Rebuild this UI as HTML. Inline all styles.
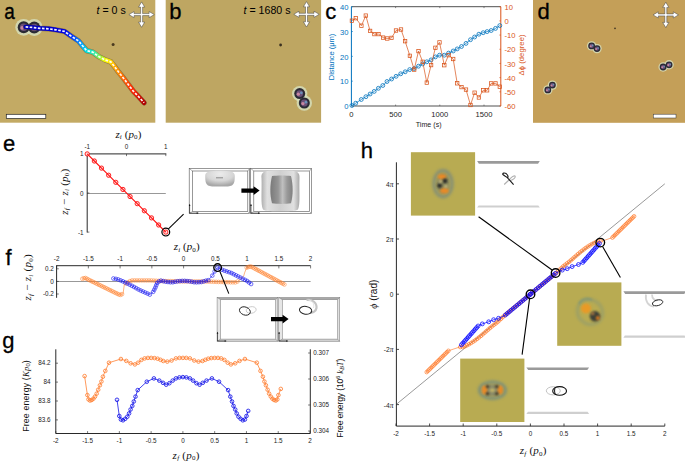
<!DOCTYPE html>
<html><head><meta charset="utf-8"><style>
html,body{margin:0;padding:0;background:#fff;width:685px;height:463px;overflow:hidden}
svg{display:block}
text{font-family:"Liberation Sans",sans-serif}
</style></head><body>
<svg width="685" height="463" viewBox="0 0 685 463">
<defs>
<radialGradient id="gblob" cx="0.5" cy="0.2" r="0.75"><stop offset="0" stop-color="#ececec"/><stop offset="0.6" stop-color="#d6d6d6"/><stop offset="1" stop-color="#a8a8a8"/></radialGradient>
<linearGradient id="gblob2" x1="0" y1="0" x2="1" y2="0"><stop offset="0" stop-color="#b0b0b0"/><stop offset="0.15" stop-color="#e0e0e0"/><stop offset="0.5" stop-color="#d0d0d0"/><stop offset="0.85" stop-color="#e0e0e0"/><stop offset="1" stop-color="#a8a8a8"/></linearGradient>
<linearGradient id="gcore" x1="0" y1="0" x2="1" y2="0"><stop offset="0" stop-color="#7a7a7a"/><stop offset="0.35" stop-color="#959595"/><stop offset="0.55" stop-color="#c0c0c0"/><stop offset="0.75" stop-color="#9a9a9a"/><stop offset="1" stop-color="#808080"/></linearGradient>
</defs><defs>
<radialGradient id="halo"><stop offset="0.55" stop-color="#c8d0a8" stop-opacity="0.9"/><stop offset="0.75" stop-color="#d8d8a0" stop-opacity="0.5"/><stop offset="1" stop-color="#d8c890" stop-opacity="0"/></radialGradient>
<radialGradient id="pdark"><stop offset="0" stop-color="#6a5a70"/><stop offset="0.45" stop-color="#3c3848"/><stop offset="0.8" stop-color="#404848"/><stop offset="1" stop-color="#707860"/></radialGradient>
<radialGradient id="pdarkA"><stop offset="0" stop-color="#d0a0b0"/><stop offset="0.3" stop-color="#8a6a80"/><stop offset="0.6" stop-color="#3c3848"/><stop offset="1" stop-color="#556060"/></radialGradient>
<linearGradient id="traj" gradientUnits="userSpaceOnUse" x1="25" y1="27" x2="144" y2="103">
<stop offset="0" stop-color="#0000b0"/><stop offset="0.25" stop-color="#0000e0"/><stop offset="0.33" stop-color="#0040ff"/>
<stop offset="0.40" stop-color="#00a0ff"/><stop offset="0.46" stop-color="#00e0e0"/><stop offset="0.52" stop-color="#40f0a0"/>
<stop offset="0.56" stop-color="#90f040"/><stop offset="0.61" stop-color="#ffff00"/><stop offset="0.68" stop-color="#ffb000"/>
<stop offset="0.79" stop-color="#ff6000"/><stop offset="0.89" stop-color="#ff2000"/><stop offset="1" stop-color="#b00000"/>
</linearGradient>
<filter id="noise" x="0" y="0" width="1" height="1"><feTurbulence type="fractalNoise" baseFrequency="0.6" numOctaves="2" seed="3"/><feColorMatrix type="matrix" values="0 0 0 0 0.5  0 0 0 0 0.45  0 0 0 0 0.3  0 0 0 0.18 0"/></filter>
<filter id="blur05" x="-50%" y="-50%" width="200%" height="200%"><feGaussianBlur stdDeviation="0.5"/></filter>
<filter id="blur1" x="-50%" y="-50%" width="200%" height="200%"><feGaussianBlur stdDeviation="0.9"/></filter>
<filter id="blur15" x="-50%" y="-50%" width="200%" height="200%"><feGaussianBlur stdDeviation="1.3"/></filter>
<filter id="blur2" x="-50%" y="-50%" width="200%" height="200%"><feGaussianBlur stdDeviation="1.6"/></filter>
<filter id="blur3"><feGaussianBlur stdDeviation="2.5"/></filter>
</defs>
<rect x="0" y="0" width="155.3" height="122.7" fill="#c3aa64"/>
<text transform="translate(4.2 18.7) scale(0.86 1)" font-size="22" fill="#000" stroke="#000" stroke-width="0.35">a</text>
<text x="96.6" y="13.7" font-size="10.6" fill="#000" text-anchor="start" style="font-family:'Liberation Sans',sans-serif;" ><tspan font-style="italic">t</tspan> = 0 s</text>
<polygon points="142.6,13.6 142.6,7.1 144.7,7.1 141.6,1.9 138.5,7.1 140.6,7.1 140.6,13.6 134.1,13.6 134.1,11.5 128.9,14.6 134.1,17.7 134.1,15.6 140.6,15.6 140.6,22.1 138.5,22.1 141.6,27.3 144.7,22.1 142.6,22.1 142.6,15.6 149.1,15.6 149.1,17.7 154.3,14.6 149.1,11.5 149.1,13.6" fill="#fff" stroke="#404040" stroke-width="0.5" stroke-linejoin="round"/>
<circle cx="23.7" cy="27.3" r="8.4" fill="#d8e2c0" opacity="0.8" filter="url(#blur05)"/>
<circle cx="34.2" cy="27.5" r="8.4" fill="#d8e2c0" opacity="0.8" filter="url(#blur05)"/>
<circle cx="23.7" cy="27.3" r="6" fill="#2c2a36" filter="url(#blur05)"/>
<circle cx="34.2" cy="27.5" r="6" fill="#2c2a36" filter="url(#blur05)"/>
<circle cx="23.7" cy="27.3" r="3.72" fill="#6a5078" filter="url(#blur05)"/>
<circle cx="22.2" cy="27.9" r="1.8" fill="#d890a8" opacity="0.85" filter="url(#blur05)"/>
<circle cx="25.5" cy="26.4" r="1.5" fill="#6aa0c8" opacity="0.8" filter="url(#blur05)"/>
<circle cx="34.2" cy="27.5" r="3.72" fill="#6a5078" filter="url(#blur05)"/>
<circle cx="32.7" cy="28.1" r="1.8" fill="#d890a8" opacity="0.85" filter="url(#blur05)"/>
<circle cx="36" cy="26.6" r="1.5" fill="#6aa0c8" opacity="0.8" filter="url(#blur05)"/>
<circle cx="113.1" cy="44.5" r="1.5" fill="#4a3a20"/>
<polyline points="25.6,26.9 33,27.5 40,28.3 48.9,28.8 56,29.8 64.5,31.4 71,36 78.7,41.1 82.1,45.3 86.6,50.6 92.7,52.1 98.7,56.6 104.8,59.7 110.8,61.9 113.9,65.7 118.4,71.8 124.4,79.3 129,85.4 133.5,91.4 138,96 144.1,102.8" fill="none" stroke="#4a3020" stroke-width="5.4" stroke-linejoin="round" stroke-linecap="round" opacity="0.45"/>
<polyline points="25.6,26.9 33,27.5 40,28.3 48.9,28.8 56,29.8 64.5,31.4 71,36 78.7,41.1 82.1,45.3 86.6,50.6 92.7,52.1 98.7,56.6 104.8,59.7 110.8,61.9 113.9,65.7 118.4,71.8 124.4,79.3 129,85.4 133.5,91.4 138,96 144.1,102.8" fill="none" stroke="url(#traj)" stroke-width="4.4" stroke-linejoin="round" stroke-linecap="round"/>
<polyline points="25.6,26.9 33,27.5 40,28.3 48.9,28.8 56,29.8 64.5,31.4 71,36 78.7,41.1 82.1,45.3 86.6,50.6 92.7,52.1 98.7,56.6 104.8,59.7 110.8,61.9 113.9,65.7 118.4,71.8 124.4,79.3 129,85.4 133.5,91.4 138,96 144.1,102.8" fill="none" stroke="#fff" stroke-width="1.7" stroke-linejoin="round" stroke-dasharray="2.6 1.5" opacity="0.95"/>
<rect x="6.3" y="114.3" width="39.5" height="4.2" fill="#fff" stroke="#222" stroke-width="0.7"/>
<rect x="165.7" y="0" width="155.4" height="122.7" fill="#bea662"/>
<text x="169.3" y="18.7" font-size="22" fill="#000" text-anchor="start" style="font-family:'Liberation Sans',sans-serif;" stroke="#000" stroke-width="0.3">b</text>
<text x="243.6" y="13.7" font-size="10.6" fill="#000" text-anchor="start" style="font-family:'Liberation Sans',sans-serif;" ><tspan font-style="italic">t</tspan> = 1680 s</text>
<polygon points="307.5,13.3 307.5,6.8 309.6,6.8 306.5,1.6 303.4,6.8 305.5,6.8 305.5,13.3 299,13.3 299,11.2 293.8,14.3 299,17.4 299,15.3 305.5,15.3 305.5,21.8 303.4,21.8 306.5,27 309.6,21.8 307.5,21.8 307.5,15.3 314,15.3 314,17.4 319.2,14.3 314,11.2 314,13.3" fill="#fff" stroke="#404040" stroke-width="0.5" stroke-linejoin="round"/>
<circle cx="299.7" cy="93.6" r="7.7" fill="#d8e2c0" opacity="0.8" filter="url(#blur05)"/>
<circle cx="304.3" cy="103" r="7.7" fill="#d8e2c0" opacity="0.8" filter="url(#blur05)"/>
<circle cx="299.7" cy="93.6" r="5.5" fill="#2c2a36" filter="url(#blur05)"/>
<circle cx="304.3" cy="103" r="5.5" fill="#2c2a36" filter="url(#blur05)"/>
<circle cx="299.7" cy="93.6" r="3.41" fill="#6a5078" filter="url(#blur05)"/>
<circle cx="298.32" cy="94.15" r="1.65" fill="#d890a8" opacity="0.85" filter="url(#blur05)"/>
<circle cx="301.35" cy="92.77" r="1.38" fill="#6aa0c8" opacity="0.8" filter="url(#blur05)"/>
<circle cx="304.3" cy="103" r="3.41" fill="#6a5078" filter="url(#blur05)"/>
<circle cx="302.93" cy="103.55" r="1.65" fill="#d890a8" opacity="0.85" filter="url(#blur05)"/>
<circle cx="305.95" cy="102.17" r="1.38" fill="#6aa0c8" opacity="0.8" filter="url(#blur05)"/>
<circle cx="280.6" cy="45" r="1.4" fill="#3a3020"/>
<rect x="533" y="0" width="152" height="122.8" fill="#c49f58"/>
<text x="537.5" y="18.7" font-size="22" fill="#000" text-anchor="start" style="font-family:'Liberation Sans',sans-serif;" stroke="#000" stroke-width="0.3">d</text>
<polygon points="666.8,13.9 666.8,7.4 668.9,7.4 665.8,2.2 662.7,7.4 664.8,7.4 664.8,13.9 658.3,13.9 658.3,11.8 653.1,14.9 658.3,18 658.3,15.9 664.8,15.9 664.8,22.4 662.7,22.4 665.8,27.6 668.9,22.4 666.8,22.4 666.8,15.9 673.3,15.9 673.3,18 678.5,14.9 673.3,11.8 673.3,13.9" fill="#fff" stroke="#404040" stroke-width="0.5" stroke-linejoin="round"/>
<circle cx="591.6" cy="45.9" r="4.7" fill="#d8e2c0" opacity="0.8" filter="url(#blur05)"/>
<circle cx="597" cy="48.6" r="4.7" fill="#d8e2c0" opacity="0.8" filter="url(#blur05)"/>
<circle cx="591.6" cy="45.9" r="3.4" fill="#2c2a36" filter="url(#blur05)"/>
<circle cx="597" cy="48.6" r="3.4" fill="#2c2a36" filter="url(#blur05)"/>
<circle cx="591.6" cy="45.9" r="2.11" fill="#6a5078" filter="url(#blur05)"/>
<circle cx="590.75" cy="46.24" r="1.02" fill="#d890a8" opacity="0.85" filter="url(#blur05)"/>
<circle cx="592.62" cy="45.39" r="0.85" fill="#6aa0c8" opacity="0.8" filter="url(#blur05)"/>
<circle cx="597" cy="48.6" r="2.11" fill="#6a5078" filter="url(#blur05)"/>
<circle cx="596.15" cy="48.94" r="1.02" fill="#d890a8" opacity="0.85" filter="url(#blur05)"/>
<circle cx="598.02" cy="48.09" r="0.85" fill="#6aa0c8" opacity="0.8" filter="url(#blur05)"/>
<circle cx="663.1" cy="67" r="4.7" fill="#d8e2c0" opacity="0.8" filter="url(#blur05)"/>
<circle cx="669.1" cy="64.8" r="4.7" fill="#d8e2c0" opacity="0.8" filter="url(#blur05)"/>
<circle cx="663.1" cy="67" r="3.4" fill="#2c2a36" filter="url(#blur05)"/>
<circle cx="669.1" cy="64.8" r="3.4" fill="#2c2a36" filter="url(#blur05)"/>
<circle cx="663.1" cy="67" r="2.11" fill="#6a5078" filter="url(#blur05)"/>
<circle cx="662.25" cy="67.34" r="1.02" fill="#d890a8" opacity="0.85" filter="url(#blur05)"/>
<circle cx="664.12" cy="66.49" r="0.85" fill="#6aa0c8" opacity="0.8" filter="url(#blur05)"/>
<circle cx="669.1" cy="64.8" r="2.11" fill="#6a5078" filter="url(#blur05)"/>
<circle cx="668.25" cy="65.14" r="1.02" fill="#d890a8" opacity="0.85" filter="url(#blur05)"/>
<circle cx="670.12" cy="64.29" r="0.85" fill="#6aa0c8" opacity="0.8" filter="url(#blur05)"/>
<circle cx="552.4" cy="85.1" r="4.7" fill="#d8e2c0" opacity="0.8" filter="url(#blur05)"/>
<circle cx="547.8" cy="89.9" r="4.7" fill="#d8e2c0" opacity="0.8" filter="url(#blur05)"/>
<circle cx="552.4" cy="85.1" r="3.4" fill="#2c2a36" filter="url(#blur05)"/>
<circle cx="547.8" cy="89.9" r="3.4" fill="#2c2a36" filter="url(#blur05)"/>
<circle cx="552.4" cy="85.1" r="2.11" fill="#6a5078" filter="url(#blur05)"/>
<circle cx="551.55" cy="85.44" r="1.02" fill="#d890a8" opacity="0.85" filter="url(#blur05)"/>
<circle cx="553.42" cy="84.59" r="0.85" fill="#6aa0c8" opacity="0.8" filter="url(#blur05)"/>
<circle cx="547.8" cy="89.9" r="2.11" fill="#6a5078" filter="url(#blur05)"/>
<circle cx="546.95" cy="90.24" r="1.02" fill="#d890a8" opacity="0.85" filter="url(#blur05)"/>
<circle cx="548.82" cy="89.39" r="0.85" fill="#6aa0c8" opacity="0.8" filter="url(#blur05)"/>
<circle cx="615" cy="28.4" r="0.8" fill="#3a3020"/>
<rect x="653.3" y="114.2" width="22.7" height="3.8" fill="#fff" stroke="#333" stroke-width="0.5"/>
<text x="325.3" y="18.6" font-size="22" fill="#000" text-anchor="start" style="font-family:'Liberation Sans',sans-serif;" stroke="#000" stroke-width="0.3">c</text>
<line x1="351.4" y1="6.7" x2="500.8" y2="6.7" stroke="#505050" stroke-width="1.0" />
<line x1="351.4" y1="106" x2="500.8" y2="106" stroke="#505050" stroke-width="1.0" />
<line x1="351.4" y1="6.7" x2="351.4" y2="106" stroke="#0072bd" stroke-width="1.0" />
<line x1="500.8" y1="6.7" x2="500.8" y2="106" stroke="#d95319" stroke-width="1.0" />
<line x1="395.6" y1="106" x2="395.6" y2="104.6" stroke="#555" stroke-width="0.7" />
<line x1="395.6" y1="6.7" x2="395.6" y2="8.1" stroke="#555" stroke-width="0.7" />
<line x1="439.8" y1="106" x2="439.8" y2="104.6" stroke="#555" stroke-width="0.7" />
<line x1="439.8" y1="6.7" x2="439.8" y2="8.1" stroke="#555" stroke-width="0.7" />
<line x1="484" y1="106" x2="484" y2="104.6" stroke="#555" stroke-width="0.7" />
<line x1="484" y1="6.7" x2="484" y2="8.1" stroke="#555" stroke-width="0.7" />
<line x1="351.4" y1="106" x2="352.8" y2="106" stroke="#0072bd" stroke-width="0.7" />
<text x="348.5" y="109.2" font-size="7.6" fill="#0072bd" text-anchor="end" style="font-family:'Liberation Sans',sans-serif;" >0</text>
<line x1="351.4" y1="81.17" x2="352.8" y2="81.17" stroke="#0072bd" stroke-width="0.7" />
<text x="348.5" y="84.38" font-size="7.6" fill="#0072bd" text-anchor="end" style="font-family:'Liberation Sans',sans-serif;" >10</text>
<line x1="351.4" y1="56.35" x2="352.8" y2="56.35" stroke="#0072bd" stroke-width="0.7" />
<text x="348.5" y="59.55" font-size="7.6" fill="#0072bd" text-anchor="end" style="font-family:'Liberation Sans',sans-serif;" >20</text>
<line x1="351.4" y1="31.53" x2="352.8" y2="31.53" stroke="#0072bd" stroke-width="0.7" />
<text x="348.5" y="34.73" font-size="7.6" fill="#0072bd" text-anchor="end" style="font-family:'Liberation Sans',sans-serif;" >30</text>
<line x1="351.4" y1="6.7" x2="352.8" y2="6.7" stroke="#0072bd" stroke-width="0.7" />
<text x="348.5" y="9.9" font-size="7.6" fill="#0072bd" text-anchor="end" style="font-family:'Liberation Sans',sans-serif;" >40</text>
<line x1="500.8" y1="6.7" x2="499.4" y2="6.7" stroke="#d95319" stroke-width="0.7" />
<text x="504.6" y="9.9" font-size="7.6" fill="#d95319" text-anchor="start" style="font-family:'Liberation Sans',sans-serif;" >10</text>
<line x1="500.8" y1="20.89" x2="499.4" y2="20.89" stroke="#d95319" stroke-width="0.7" />
<text x="504.6" y="24.09" font-size="7.6" fill="#d95319" text-anchor="start" style="font-family:'Liberation Sans',sans-serif;" >0</text>
<line x1="500.8" y1="35.07" x2="499.4" y2="35.07" stroke="#d95319" stroke-width="0.7" />
<text x="504.6" y="38.27" font-size="7.6" fill="#d95319" text-anchor="start" style="font-family:'Liberation Sans',sans-serif;" >-10</text>
<line x1="500.8" y1="49.26" x2="499.4" y2="49.26" stroke="#d95319" stroke-width="0.7" />
<text x="504.6" y="52.46" font-size="7.6" fill="#d95319" text-anchor="start" style="font-family:'Liberation Sans',sans-serif;" >-20</text>
<line x1="500.8" y1="63.44" x2="499.4" y2="63.44" stroke="#d95319" stroke-width="0.7" />
<text x="504.6" y="66.64" font-size="7.6" fill="#d95319" text-anchor="start" style="font-family:'Liberation Sans',sans-serif;" >-30</text>
<line x1="500.8" y1="77.63" x2="499.4" y2="77.63" stroke="#d95319" stroke-width="0.7" />
<text x="504.6" y="80.83" font-size="7.6" fill="#d95319" text-anchor="start" style="font-family:'Liberation Sans',sans-serif;" >-40</text>
<line x1="500.8" y1="91.82" x2="499.4" y2="91.82" stroke="#d95319" stroke-width="0.7" />
<text x="504.6" y="95.02" font-size="7.6" fill="#d95319" text-anchor="start" style="font-family:'Liberation Sans',sans-serif;" >-50</text>
<line x1="500.8" y1="106" x2="499.4" y2="106" stroke="#d95319" stroke-width="0.7" />
<text x="504.6" y="109.2" font-size="7.6" fill="#d95319" text-anchor="start" style="font-family:'Liberation Sans',sans-serif;" >-60</text>
<text x="351.4" y="117" font-size="7.6" fill="#222" text-anchor="middle" style="font-family:'Liberation Sans',sans-serif;" >0</text>
<text x="395.6" y="117" font-size="7.6" fill="#222" text-anchor="middle" style="font-family:'Liberation Sans',sans-serif;" >500</text>
<text x="439.8" y="117" font-size="7.6" fill="#222" text-anchor="middle" style="font-family:'Liberation Sans',sans-serif;" >1000</text>
<text x="484" y="117" font-size="7.6" fill="#222" text-anchor="middle" style="font-family:'Liberation Sans',sans-serif;" >1500</text>
<text x="428.7" y="126.6" font-size="7" fill="#222" text-anchor="middle" style="font-family:'Liberation Sans',sans-serif;" textLength="26" lengthAdjust="spacing">Time (s)</text>
<text x="333.9" y="57" font-size="7.6" fill="#0072bd" text-anchor="middle" style="font-family:'Liberation Sans',sans-serif;" transform="rotate(-90 333.9 57)" textLength="46.5" lengthAdjust="spacing">Distance (μm)</text>
<text x="524" y="55" font-size="7.6" fill="#d95319" text-anchor="middle" style="font-family:'Liberation Sans',sans-serif;" transform="rotate(-90 524 55)" textLength="41" lengthAdjust="spacing">Δϕ (degree)</text>
<polyline points="351.9,105.5 355.7,103.2 361.3,99.5 365.9,96.7 370.1,94 374.2,91.4 378.4,88.3 382.8,85.5 387,81.5 391.6,79 396.1,76.3 400.7,73.8 405.2,71.8 409.7,69.6 414.2,68.5 418.5,66.2 422.7,63.9 426.8,61.8 431.1,59.9 435.4,56.9 439.5,55.2 444.3,55.2 448.6,53.1 453.2,51 457.2,48.9 461.5,46.5 466,43.4 470.5,39.7 474.6,37 478.9,34.2 483.2,32.7 487.1,31.6 491.2,30.5 495.5,28.4 499.8,25.6" fill="none" stroke="#0072bd" stroke-width="0.7" stroke-linejoin="round" />
<circle cx="351.9" cy="105.5" r="1.95" fill="none" stroke="#0072bd" stroke-width="0.8"/>
<circle cx="355.7" cy="103.2" r="1.95" fill="none" stroke="#0072bd" stroke-width="0.8"/>
<circle cx="361.3" cy="99.5" r="1.95" fill="none" stroke="#0072bd" stroke-width="0.8"/>
<circle cx="365.9" cy="96.7" r="1.95" fill="none" stroke="#0072bd" stroke-width="0.8"/>
<circle cx="370.1" cy="94" r="1.95" fill="none" stroke="#0072bd" stroke-width="0.8"/>
<circle cx="374.2" cy="91.4" r="1.95" fill="none" stroke="#0072bd" stroke-width="0.8"/>
<circle cx="378.4" cy="88.3" r="1.95" fill="none" stroke="#0072bd" stroke-width="0.8"/>
<circle cx="382.8" cy="85.5" r="1.95" fill="none" stroke="#0072bd" stroke-width="0.8"/>
<circle cx="387" cy="81.5" r="1.95" fill="none" stroke="#0072bd" stroke-width="0.8"/>
<circle cx="391.6" cy="79" r="1.95" fill="none" stroke="#0072bd" stroke-width="0.8"/>
<circle cx="396.1" cy="76.3" r="1.95" fill="none" stroke="#0072bd" stroke-width="0.8"/>
<circle cx="400.7" cy="73.8" r="1.95" fill="none" stroke="#0072bd" stroke-width="0.8"/>
<circle cx="405.2" cy="71.8" r="1.95" fill="none" stroke="#0072bd" stroke-width="0.8"/>
<circle cx="409.7" cy="69.6" r="1.95" fill="none" stroke="#0072bd" stroke-width="0.8"/>
<circle cx="414.2" cy="68.5" r="1.95" fill="none" stroke="#0072bd" stroke-width="0.8"/>
<circle cx="418.5" cy="66.2" r="1.95" fill="none" stroke="#0072bd" stroke-width="0.8"/>
<circle cx="422.7" cy="63.9" r="1.95" fill="none" stroke="#0072bd" stroke-width="0.8"/>
<circle cx="426.8" cy="61.8" r="1.95" fill="none" stroke="#0072bd" stroke-width="0.8"/>
<circle cx="431.1" cy="59.9" r="1.95" fill="none" stroke="#0072bd" stroke-width="0.8"/>
<circle cx="435.4" cy="56.9" r="1.95" fill="none" stroke="#0072bd" stroke-width="0.8"/>
<circle cx="439.5" cy="55.2" r="1.95" fill="none" stroke="#0072bd" stroke-width="0.8"/>
<circle cx="444.3" cy="55.2" r="1.95" fill="none" stroke="#0072bd" stroke-width="0.8"/>
<circle cx="448.6" cy="53.1" r="1.95" fill="none" stroke="#0072bd" stroke-width="0.8"/>
<circle cx="453.2" cy="51" r="1.95" fill="none" stroke="#0072bd" stroke-width="0.8"/>
<circle cx="457.2" cy="48.9" r="1.95" fill="none" stroke="#0072bd" stroke-width="0.8"/>
<circle cx="461.5" cy="46.5" r="1.95" fill="none" stroke="#0072bd" stroke-width="0.8"/>
<circle cx="466" cy="43.4" r="1.95" fill="none" stroke="#0072bd" stroke-width="0.8"/>
<circle cx="470.5" cy="39.7" r="1.95" fill="none" stroke="#0072bd" stroke-width="0.8"/>
<circle cx="474.6" cy="37" r="1.95" fill="none" stroke="#0072bd" stroke-width="0.8"/>
<circle cx="478.9" cy="34.2" r="1.95" fill="none" stroke="#0072bd" stroke-width="0.8"/>
<circle cx="483.2" cy="32.7" r="1.95" fill="none" stroke="#0072bd" stroke-width="0.8"/>
<circle cx="487.1" cy="31.6" r="1.95" fill="none" stroke="#0072bd" stroke-width="0.8"/>
<circle cx="491.2" cy="30.5" r="1.95" fill="none" stroke="#0072bd" stroke-width="0.8"/>
<circle cx="495.5" cy="28.4" r="1.95" fill="none" stroke="#0072bd" stroke-width="0.8"/>
<circle cx="499.8" cy="25.6" r="1.95" fill="none" stroke="#0072bd" stroke-width="0.8"/>
<polyline points="351.9,20.7 355.8,18.2 361.4,25.7 365.8,15.6 370.1,30.9 374.4,34.1 378.5,34.1 383.1,37.6 387.3,38.5 391.5,37.9 396,30.5 401,29.5 405.1,41.2 409.9,55.8 414.2,69.6 418.5,51.1 422.7,61.8 426.8,82.6 431.1,65.1 435.4,47.8 439.5,42.4 444.3,65.2 448.6,55.2 453.2,59 457.2,83.3 461.5,87.1 466,89.6 470.5,105 474.6,92.7 478.9,97.5 483.2,90.3 487.1,90.3 491.2,83.4 495.5,83.4 499.8,86.7" fill="none" stroke="#d95319" stroke-width="0.7" stroke-linejoin="round" />
<rect x="350.2" y="19" width="3.4" height="3.4" fill="none" stroke="#d95319" stroke-width="0.75"/>
<rect x="354.1" y="16.5" width="3.4" height="3.4" fill="none" stroke="#d95319" stroke-width="0.75"/>
<rect x="359.7" y="24" width="3.4" height="3.4" fill="none" stroke="#d95319" stroke-width="0.75"/>
<rect x="364.1" y="13.9" width="3.4" height="3.4" fill="none" stroke="#d95319" stroke-width="0.75"/>
<rect x="368.4" y="29.2" width="3.4" height="3.4" fill="none" stroke="#d95319" stroke-width="0.75"/>
<rect x="372.7" y="32.4" width="3.4" height="3.4" fill="none" stroke="#d95319" stroke-width="0.75"/>
<rect x="376.8" y="32.4" width="3.4" height="3.4" fill="none" stroke="#d95319" stroke-width="0.75"/>
<rect x="381.4" y="35.9" width="3.4" height="3.4" fill="none" stroke="#d95319" stroke-width="0.75"/>
<rect x="385.6" y="36.8" width="3.4" height="3.4" fill="none" stroke="#d95319" stroke-width="0.75"/>
<rect x="389.8" y="36.2" width="3.4" height="3.4" fill="none" stroke="#d95319" stroke-width="0.75"/>
<rect x="394.3" y="28.8" width="3.4" height="3.4" fill="none" stroke="#d95319" stroke-width="0.75"/>
<rect x="399.3" y="27.8" width="3.4" height="3.4" fill="none" stroke="#d95319" stroke-width="0.75"/>
<rect x="403.4" y="39.5" width="3.4" height="3.4" fill="none" stroke="#d95319" stroke-width="0.75"/>
<rect x="408.2" y="54.1" width="3.4" height="3.4" fill="none" stroke="#d95319" stroke-width="0.75"/>
<rect x="412.5" y="67.9" width="3.4" height="3.4" fill="none" stroke="#d95319" stroke-width="0.75"/>
<rect x="416.8" y="49.4" width="3.4" height="3.4" fill="none" stroke="#d95319" stroke-width="0.75"/>
<rect x="421" y="60.1" width="3.4" height="3.4" fill="none" stroke="#d95319" stroke-width="0.75"/>
<rect x="425.1" y="80.9" width="3.4" height="3.4" fill="none" stroke="#d95319" stroke-width="0.75"/>
<rect x="429.4" y="63.4" width="3.4" height="3.4" fill="none" stroke="#d95319" stroke-width="0.75"/>
<rect x="433.7" y="46.1" width="3.4" height="3.4" fill="none" stroke="#d95319" stroke-width="0.75"/>
<rect x="437.8" y="40.7" width="3.4" height="3.4" fill="none" stroke="#d95319" stroke-width="0.75"/>
<rect x="442.6" y="63.5" width="3.4" height="3.4" fill="none" stroke="#d95319" stroke-width="0.75"/>
<rect x="446.9" y="53.5" width="3.4" height="3.4" fill="none" stroke="#d95319" stroke-width="0.75"/>
<rect x="451.5" y="57.3" width="3.4" height="3.4" fill="none" stroke="#d95319" stroke-width="0.75"/>
<rect x="455.5" y="81.6" width="3.4" height="3.4" fill="none" stroke="#d95319" stroke-width="0.75"/>
<rect x="459.8" y="85.4" width="3.4" height="3.4" fill="none" stroke="#d95319" stroke-width="0.75"/>
<rect x="464.3" y="87.9" width="3.4" height="3.4" fill="none" stroke="#d95319" stroke-width="0.75"/>
<rect x="468.8" y="103.3" width="3.4" height="3.4" fill="none" stroke="#d95319" stroke-width="0.75"/>
<rect x="472.9" y="91" width="3.4" height="3.4" fill="none" stroke="#d95319" stroke-width="0.75"/>
<rect x="477.2" y="95.8" width="3.4" height="3.4" fill="none" stroke="#d95319" stroke-width="0.75"/>
<rect x="481.5" y="88.6" width="3.4" height="3.4" fill="none" stroke="#d95319" stroke-width="0.75"/>
<rect x="485.4" y="88.6" width="3.4" height="3.4" fill="none" stroke="#d95319" stroke-width="0.75"/>
<rect x="489.5" y="81.7" width="3.4" height="3.4" fill="none" stroke="#d95319" stroke-width="0.75"/>
<rect x="493.8" y="81.7" width="3.4" height="3.4" fill="none" stroke="#d95319" stroke-width="0.75"/>
<rect x="498.1" y="85" width="3.4" height="3.4" fill="none" stroke="#d95319" stroke-width="0.75"/>
<text x="3" y="150.6" font-size="22" fill="#000" text-anchor="start" style="font-family:'Liberation Sans',sans-serif;" stroke="#000" stroke-width="0.3">e</text>
<line x1="87.2" y1="193.5" x2="165.8" y2="193.5" stroke="#8c8c8c" stroke-width="0.9" />
<line x1="87.2" y1="153.9" x2="166.3" y2="153.9" stroke="#111" stroke-width="0.9" />
<line x1="87.2" y1="153.5" x2="87.2" y2="232.5" stroke="#111" stroke-width="0.9" />
<line x1="87.2" y1="153.9" x2="87.2" y2="156.1" stroke="#222" stroke-width="0.6" />
<text x="87.2" y="148.8" font-size="6.3" fill="#222" text-anchor="middle" style="font-family:'Liberation Sans',sans-serif;" >-1</text>
<line x1="126.5" y1="153.9" x2="126.5" y2="156.1" stroke="#222" stroke-width="0.6" />
<text x="126.5" y="148.8" font-size="6.3" fill="#222" text-anchor="middle" style="font-family:'Liberation Sans',sans-serif;" >0</text>
<line x1="165.8" y1="153.9" x2="165.8" y2="156.1" stroke="#222" stroke-width="0.6" />
<text x="165.8" y="148.8" font-size="6.3" fill="#222" text-anchor="middle" style="font-family:'Liberation Sans',sans-serif;" >1</text>
<line x1="87.2" y1="153.9" x2="89.4" y2="153.9" stroke="#222" stroke-width="0.6" />
<text x="83.6" y="156.4" font-size="6.3" fill="#222" text-anchor="end" style="font-family:'Liberation Sans',sans-serif;" >1</text>
<line x1="87.2" y1="193" x2="89.4" y2="193" stroke="#222" stroke-width="0.6" />
<text x="83.6" y="195.5" font-size="6.3" fill="#222" text-anchor="end" style="font-family:'Liberation Sans',sans-serif;" >0</text>
<line x1="87.2" y1="232.1" x2="89.4" y2="232.1" stroke="#222" stroke-width="0.6" />
<text x="83.6" y="234.6" font-size="6.3" fill="#222" text-anchor="end" style="font-family:'Liberation Sans',sans-serif;" >-1</text>
<text x="128.4" y="137.8" font-size="11" fill="#111" text-anchor="middle" style="font-family:'Liberation Serif',serif;" textLength="25.8" lengthAdjust="spacing"><tspan font-style="italic">z</tspan><tspan font-style="italic" font-size="7" dy="1.4">i</tspan><tspan dy="-1.4"> (</tspan><tspan font-style="italic">p</tspan><tspan font-size="7" dy="1.4">0</tspan><tspan dy="-1.4">)</tspan></text>
<text x="67.8" y="191.7" font-size="11" fill="#111" text-anchor="middle" style="font-family:'Liberation Serif',serif;" transform="rotate(-90 67.8 191.7)" textLength="46" lengthAdjust="spacing"><tspan font-style="italic">z</tspan><tspan font-style="italic" font-size="7" dy="1.4">f</tspan><tspan dy="-1.4"> − </tspan><tspan font-style="italic">z</tspan><tspan font-style="italic" font-size="7" dy="1.4">i</tspan><tspan dy="-1.4"> (</tspan><tspan font-style="italic">p</tspan><tspan font-size="7" dy="1.4">0</tspan><tspan dy="-1.4">)</tspan></text>
<circle cx="87.2" cy="153.9" r="2.15" fill="#ffd8d8" stroke="#ff0000" stroke-width="0.85"/>
<circle cx="94.35" cy="161.01" r="2.15" fill="#ffd8d8" stroke="#ff0000" stroke-width="0.85"/>
<circle cx="101.49" cy="168.12" r="2.15" fill="#ffd8d8" stroke="#ff0000" stroke-width="0.85"/>
<circle cx="108.64" cy="175.23" r="2.15" fill="#ffd8d8" stroke="#ff0000" stroke-width="0.85"/>
<circle cx="115.78" cy="182.34" r="2.15" fill="#ffd8d8" stroke="#ff0000" stroke-width="0.85"/>
<circle cx="122.93" cy="189.45" r="2.15" fill="#ffd8d8" stroke="#ff0000" stroke-width="0.85"/>
<circle cx="130.07" cy="196.55" r="2.15" fill="#ffd8d8" stroke="#ff0000" stroke-width="0.85"/>
<circle cx="137.22" cy="203.66" r="2.15" fill="#ffd8d8" stroke="#ff0000" stroke-width="0.85"/>
<circle cx="144.36" cy="210.77" r="2.15" fill="#ffd8d8" stroke="#ff0000" stroke-width="0.85"/>
<circle cx="151.51" cy="217.88" r="2.15" fill="#ffd8d8" stroke="#ff0000" stroke-width="0.85"/>
<circle cx="158.65" cy="224.99" r="2.15" fill="#ffd8d8" stroke="#ff0000" stroke-width="0.85"/>
<circle cx="165.8" cy="232.1" r="2.15" fill="#ffd8d8" stroke="#ff0000" stroke-width="0.85"/>
<polyline points="87.2,153.9 94.35,161.01 101.49,168.12 108.64,175.23 115.78,182.34 122.93,189.45 130.07,196.55 137.22,203.66 144.36,210.77 151.51,217.88 158.65,224.99 165.8,232.1" fill="none" stroke="#ff1010" stroke-width="1.1" stroke-linejoin="round" />
<circle cx="165.8" cy="232.1" r="3.9" fill="none" stroke="#000" stroke-width="1.2"/>
<line x1="168.2" y1="229.2" x2="183.6" y2="214.2" stroke="#000" stroke-width="1.05" />
<rect x="189.2" y="168.4" width="60.4" height="45" fill="#fff"/>
<rect x="189.2" y="168.4" width="60.4" height="45" fill="none" stroke="#555" stroke-width="0.6"/>
<rect x="192.4" y="171" width="55.4" height="40.6" fill="none" stroke="#555" stroke-width="0.6"/>
<line x1="189.2" y1="168.4" x2="192.4" y2="171" stroke="#666" stroke-width="0.5" />
<line x1="249.6" y1="168.4" x2="247.8" y2="171" stroke="#666" stroke-width="0.5" />
<line x1="189.2" y1="213.4" x2="192.4" y2="211.6" stroke="#666" stroke-width="0.5" />
<line x1="249.6" y1="213.4" x2="247.8" y2="211.6" stroke="#666" stroke-width="0.5" />
<line x1="189.6" y1="213.1" x2="198.2" y2="213.1" stroke="#111" stroke-width="0.6" />
<line x1="189.6" y1="213.1" x2="189.6" y2="204.4" stroke="#111" stroke-width="0.6" />
<polygon points="198.7,213.1 196.7,212.3 196.7,213.9" fill="#111"/>
<polygon points="189.6,203.9 188.8,205.9 190.4,205.9" fill="#111"/>
<rect x="250.6" y="168.4" width="60.8" height="45" fill="#fff"/>
<rect x="250.6" y="168.4" width="60.8" height="45" fill="none" stroke="#555" stroke-width="0.6"/>
<rect x="253.8" y="171" width="55.8" height="40.6" fill="none" stroke="#555" stroke-width="0.6"/>
<line x1="250.6" y1="168.4" x2="253.8" y2="171" stroke="#666" stroke-width="0.5" />
<line x1="311.4" y1="168.4" x2="309.6" y2="171" stroke="#666" stroke-width="0.5" />
<line x1="250.6" y1="213.4" x2="253.8" y2="211.6" stroke="#666" stroke-width="0.5" />
<line x1="311.4" y1="213.4" x2="309.6" y2="211.6" stroke="#666" stroke-width="0.5" />
<line x1="251" y1="213.1" x2="259.6" y2="213.1" stroke="#111" stroke-width="0.6" />
<line x1="251" y1="213.1" x2="251" y2="204.4" stroke="#111" stroke-width="0.6" />
<polygon points="260.1,213.1 258.1,212.3 258.1,213.9" fill="#111"/>
<polygon points="251,203.9 250.2,205.9 251.8,205.9" fill="#111"/>
<path d="M205.2,176 C205,171.5 210,170.8 220,170.8 C230,170.8 235,171.5 234.8,176 C234.6,181 235,186.2 228,186.4 L212,186.4 C205,186.2 205.4,181 205.2,176 Z" fill="url(#gblob)"/>
<rect x="216" y="177.3" width="7" height="1" fill="#777" opacity="0.8"/>
<path d="M261.5,178 C261,171 265,170.4 280.5,170.4 C296,170.4 300,171 299.5,178 C299,190 300.5,205 298,209.5 C295,211.5 285,211.3 280.5,211.2 C276,211.3 266,211.5 263,209.5 C260.5,205 262,190 261.5,178 Z" fill="url(#gblob2)"/>
<path d="M272,176 C277,175.3 286,175.3 291,176 C293.2,185 293.2,195 291,203.3 C286,204.1 277,204.1 272,203.3 C269.8,195 269.8,185 272,176 Z" fill="url(#gcore)"/>
<polygon points="241.4,188.5 253.6,188.5 253.6,186.2 259.6,190.6 253.6,195 253.6,192.7 241.4,192.7" fill="#000"/>
<text x="5.6" y="265.3" font-size="22" fill="#000" text-anchor="start" style="font-family:'Liberation Sans',sans-serif;" stroke="#000" stroke-width="0.3">f</text>
<line x1="56.6" y1="281.5" x2="310.6" y2="281.5" stroke="#8c8c8c" stroke-width="0.9" />
<line x1="56.6" y1="265.7" x2="310.6" y2="265.7" stroke="#111" stroke-width="0.9" />
<line x1="56.6" y1="265.3" x2="56.6" y2="297.8" stroke="#111" stroke-width="0.9" />
<line x1="56.6" y1="265.7" x2="56.6" y2="268.4" stroke="#222" stroke-width="0.6" />
<text x="56.6" y="261.3" font-size="6.3" fill="#222" text-anchor="middle" style="font-family:'Liberation Sans',sans-serif;" >-2</text>
<line x1="88.35" y1="265.7" x2="88.35" y2="268.4" stroke="#222" stroke-width="0.6" />
<text x="88.35" y="261.3" font-size="6.3" fill="#222" text-anchor="middle" style="font-family:'Liberation Sans',sans-serif;" >-1.5</text>
<line x1="120.1" y1="265.7" x2="120.1" y2="268.4" stroke="#222" stroke-width="0.6" />
<text x="120.1" y="261.3" font-size="6.3" fill="#222" text-anchor="middle" style="font-family:'Liberation Sans',sans-serif;" >-1</text>
<line x1="151.85" y1="265.7" x2="151.85" y2="268.4" stroke="#222" stroke-width="0.6" />
<text x="151.85" y="261.3" font-size="6.3" fill="#222" text-anchor="middle" style="font-family:'Liberation Sans',sans-serif;" >-0.5</text>
<line x1="183.6" y1="265.7" x2="183.6" y2="268.4" stroke="#222" stroke-width="0.6" />
<text x="183.6" y="261.3" font-size="6.3" fill="#222" text-anchor="middle" style="font-family:'Liberation Sans',sans-serif;" >0</text>
<line x1="215.35" y1="265.7" x2="215.35" y2="268.4" stroke="#222" stroke-width="0.6" />
<text x="215.35" y="261.3" font-size="6.3" fill="#222" text-anchor="middle" style="font-family:'Liberation Sans',sans-serif;" >0.5</text>
<line x1="247.1" y1="265.7" x2="247.1" y2="268.4" stroke="#222" stroke-width="0.6" />
<text x="247.1" y="261.3" font-size="6.3" fill="#222" text-anchor="middle" style="font-family:'Liberation Sans',sans-serif;" >1</text>
<line x1="278.85" y1="265.7" x2="278.85" y2="268.4" stroke="#222" stroke-width="0.6" />
<text x="278.85" y="261.3" font-size="6.3" fill="#222" text-anchor="middle" style="font-family:'Liberation Sans',sans-serif;" >1.5</text>
<line x1="310.6" y1="265.7" x2="310.6" y2="268.4" stroke="#222" stroke-width="0.6" />
<text x="310.6" y="261.3" font-size="6.3" fill="#222" text-anchor="middle" style="font-family:'Liberation Sans',sans-serif;" >2</text>
<line x1="56.6" y1="268.8" x2="58.8" y2="268.8" stroke="#222" stroke-width="0.6" />
<text x="53.8" y="270.9" font-size="6.3" fill="#222" text-anchor="end" style="font-family:'Liberation Sans',sans-serif;" >0.2</text>
<line x1="56.6" y1="281.4" x2="58.8" y2="281.4" stroke="#222" stroke-width="0.6" />
<text x="53.8" y="283.5" font-size="6.3" fill="#222" text-anchor="end" style="font-family:'Liberation Sans',sans-serif;" >0</text>
<line x1="56.6" y1="294" x2="58.8" y2="294" stroke="#222" stroke-width="0.6" />
<text x="53.8" y="296.1" font-size="6.3" fill="#222" text-anchor="end" style="font-family:'Liberation Sans',sans-serif;" >-0.2</text>
<text x="186.7" y="250.2" font-size="11" fill="#111" text-anchor="middle" style="font-family:'Liberation Serif',serif;" textLength="25.8" lengthAdjust="spacing"><tspan font-style="italic">z</tspan><tspan font-style="italic" font-size="7" dy="1.4">i</tspan><tspan dy="-1.4"> (</tspan><tspan font-style="italic">p</tspan><tspan font-size="7" dy="1.4">0</tspan><tspan dy="-1.4">)</tspan></text>
<text x="31.4" y="277.4" font-size="11" fill="#111" text-anchor="middle" style="font-family:'Liberation Serif',serif;" transform="rotate(-90 31.4 277.4)" textLength="46" lengthAdjust="spacing"><tspan font-style="italic">z</tspan><tspan font-style="italic" font-size="7" dy="1.4">f</tspan><tspan dy="-1.4"> − </tspan><tspan font-style="italic">z</tspan><tspan font-style="italic" font-size="7" dy="1.4">i</tspan><tspan dy="-1.4"> (</tspan><tspan font-style="italic">p</tspan><tspan font-size="7" dy="1.4">0</tspan><tspan dy="-1.4">)</tspan></text>
<polyline points="82.3,278.8 85.1,277.8 88.4,279.6 120.1,295.1 123.1,293.6 124.2,285.4 125.7,283.4 131.3,280.4 150,280.4 160,281 183.6,281.4 207,281.5 217,281.9 236,282.4 238.8,280.7 243.6,276.3 244.6,272.8 246.7,267.6 250.6,266.3 284.8,284.7" fill="none" stroke="#ff7f2a" stroke-width="0.6" stroke-linejoin="round" />
<circle cx="82.3" cy="278.8" r="1.85" fill="none" stroke="#ff7f2a" stroke-width="0.5"/>
<circle cx="83.9" cy="278.23" r="1.85" fill="none" stroke="#ff7f2a" stroke-width="0.5"/>
<circle cx="85.47" cy="278" r="1.85" fill="none" stroke="#ff7f2a" stroke-width="0.5"/>
<circle cx="86.97" cy="278.82" r="1.85" fill="none" stroke="#ff7f2a" stroke-width="0.5"/>
<circle cx="88.46" cy="279.63" r="1.85" fill="none" stroke="#ff7f2a" stroke-width="0.5"/>
<circle cx="89.99" cy="280.38" r="1.85" fill="none" stroke="#ff7f2a" stroke-width="0.5"/>
<circle cx="91.52" cy="281.12" r="1.85" fill="none" stroke="#ff7f2a" stroke-width="0.5"/>
<circle cx="93.04" cy="281.87" r="1.85" fill="none" stroke="#ff7f2a" stroke-width="0.5"/>
<circle cx="94.57" cy="282.62" r="1.85" fill="none" stroke="#ff7f2a" stroke-width="0.5"/>
<circle cx="96.1" cy="283.36" r="1.85" fill="none" stroke="#ff7f2a" stroke-width="0.5"/>
<circle cx="97.62" cy="284.11" r="1.85" fill="none" stroke="#ff7f2a" stroke-width="0.5"/>
<circle cx="99.15" cy="284.86" r="1.85" fill="none" stroke="#ff7f2a" stroke-width="0.5"/>
<circle cx="100.68" cy="285.6" r="1.85" fill="none" stroke="#ff7f2a" stroke-width="0.5"/>
<circle cx="102.21" cy="286.35" r="1.85" fill="none" stroke="#ff7f2a" stroke-width="0.5"/>
<circle cx="103.73" cy="287.1" r="1.85" fill="none" stroke="#ff7f2a" stroke-width="0.5"/>
<circle cx="105.26" cy="287.84" r="1.85" fill="none" stroke="#ff7f2a" stroke-width="0.5"/>
<circle cx="106.79" cy="288.59" r="1.85" fill="none" stroke="#ff7f2a" stroke-width="0.5"/>
<circle cx="108.31" cy="289.34" r="1.85" fill="none" stroke="#ff7f2a" stroke-width="0.5"/>
<circle cx="109.84" cy="290.08" r="1.85" fill="none" stroke="#ff7f2a" stroke-width="0.5"/>
<circle cx="111.37" cy="290.83" r="1.85" fill="none" stroke="#ff7f2a" stroke-width="0.5"/>
<circle cx="112.9" cy="291.58" r="1.85" fill="none" stroke="#ff7f2a" stroke-width="0.5"/>
<circle cx="114.42" cy="292.32" r="1.85" fill="none" stroke="#ff7f2a" stroke-width="0.5"/>
<circle cx="115.95" cy="293.07" r="1.85" fill="none" stroke="#ff7f2a" stroke-width="0.5"/>
<circle cx="117.48" cy="293.82" r="1.85" fill="none" stroke="#ff7f2a" stroke-width="0.5"/>
<circle cx="119.01" cy="294.56" r="1.85" fill="none" stroke="#ff7f2a" stroke-width="0.5"/>
<circle cx="120.53" cy="294.88" r="1.85" fill="none" stroke="#ff7f2a" stroke-width="0.5"/>
<circle cx="122.05" cy="294.12" r="1.85" fill="none" stroke="#ff7f2a" stroke-width="0.5"/>
<circle cx="125.7" cy="283.4" r="1.85" fill="none" stroke="#ff7f2a" stroke-width="0.5"/>
<circle cx="127.82" cy="282.27" r="1.85" fill="none" stroke="#ff7f2a" stroke-width="0.5"/>
<circle cx="129.93" cy="281.13" r="1.85" fill="none" stroke="#ff7f2a" stroke-width="0.5"/>
<circle cx="132.15" cy="280.4" r="1.85" fill="none" stroke="#ff7f2a" stroke-width="0.5"/>
<circle cx="134.55" cy="280.4" r="1.85" fill="none" stroke="#ff7f2a" stroke-width="0.5"/>
<circle cx="136.95" cy="280.4" r="1.85" fill="none" stroke="#ff7f2a" stroke-width="0.5"/>
<circle cx="139.35" cy="280.4" r="1.85" fill="none" stroke="#ff7f2a" stroke-width="0.5"/>
<circle cx="141.75" cy="280.4" r="1.85" fill="none" stroke="#ff7f2a" stroke-width="0.5"/>
<circle cx="144.15" cy="280.4" r="1.85" fill="none" stroke="#ff7f2a" stroke-width="0.5"/>
<circle cx="146.55" cy="280.4" r="1.85" fill="none" stroke="#ff7f2a" stroke-width="0.5"/>
<circle cx="148.95" cy="280.4" r="1.85" fill="none" stroke="#ff7f2a" stroke-width="0.5"/>
<circle cx="151.34" cy="280.48" r="1.85" fill="none" stroke="#ff7f2a" stroke-width="0.5"/>
<circle cx="153.74" cy="280.62" r="1.85" fill="none" stroke="#ff7f2a" stroke-width="0.5"/>
<circle cx="156.14" cy="280.77" r="1.85" fill="none" stroke="#ff7f2a" stroke-width="0.5"/>
<circle cx="158.53" cy="280.91" r="1.85" fill="none" stroke="#ff7f2a" stroke-width="0.5"/>
<circle cx="160.93" cy="281.02" r="1.85" fill="none" stroke="#ff7f2a" stroke-width="0.5"/>
<circle cx="163.33" cy="281.06" r="1.85" fill="none" stroke="#ff7f2a" stroke-width="0.5"/>
<circle cx="165.73" cy="281.1" r="1.85" fill="none" stroke="#ff7f2a" stroke-width="0.5"/>
<circle cx="168.13" cy="281.14" r="1.85" fill="none" stroke="#ff7f2a" stroke-width="0.5"/>
<circle cx="170.53" cy="281.18" r="1.85" fill="none" stroke="#ff7f2a" stroke-width="0.5"/>
<circle cx="172.93" cy="281.22" r="1.85" fill="none" stroke="#ff7f2a" stroke-width="0.5"/>
<circle cx="175.33" cy="281.26" r="1.85" fill="none" stroke="#ff7f2a" stroke-width="0.5"/>
<circle cx="177.73" cy="281.3" r="1.85" fill="none" stroke="#ff7f2a" stroke-width="0.5"/>
<circle cx="180.13" cy="281.34" r="1.85" fill="none" stroke="#ff7f2a" stroke-width="0.5"/>
<circle cx="182.53" cy="281.38" r="1.85" fill="none" stroke="#ff7f2a" stroke-width="0.5"/>
<circle cx="184.93" cy="281.41" r="1.85" fill="none" stroke="#ff7f2a" stroke-width="0.5"/>
<circle cx="187.33" cy="281.42" r="1.85" fill="none" stroke="#ff7f2a" stroke-width="0.5"/>
<circle cx="189.73" cy="281.43" r="1.85" fill="none" stroke="#ff7f2a" stroke-width="0.5"/>
<circle cx="192.13" cy="281.44" r="1.85" fill="none" stroke="#ff7f2a" stroke-width="0.5"/>
<circle cx="194.53" cy="281.45" r="1.85" fill="none" stroke="#ff7f2a" stroke-width="0.5"/>
<circle cx="196.93" cy="281.46" r="1.85" fill="none" stroke="#ff7f2a" stroke-width="0.5"/>
<circle cx="199.33" cy="281.47" r="1.85" fill="none" stroke="#ff7f2a" stroke-width="0.5"/>
<circle cx="201.73" cy="281.48" r="1.85" fill="none" stroke="#ff7f2a" stroke-width="0.5"/>
<circle cx="204.13" cy="281.49" r="1.85" fill="none" stroke="#ff7f2a" stroke-width="0.5"/>
<circle cx="206.53" cy="281.5" r="1.85" fill="none" stroke="#ff7f2a" stroke-width="0.5"/>
<circle cx="208.92" cy="281.58" r="1.85" fill="none" stroke="#ff7f2a" stroke-width="0.5"/>
<circle cx="211.32" cy="281.67" r="1.85" fill="none" stroke="#ff7f2a" stroke-width="0.5"/>
<circle cx="213.72" cy="281.77" r="1.85" fill="none" stroke="#ff7f2a" stroke-width="0.5"/>
<circle cx="216.12" cy="281.86" r="1.85" fill="none" stroke="#ff7f2a" stroke-width="0.5"/>
<circle cx="218.52" cy="281.94" r="1.85" fill="none" stroke="#ff7f2a" stroke-width="0.5"/>
<circle cx="220.92" cy="282" r="1.85" fill="none" stroke="#ff7f2a" stroke-width="0.5"/>
<circle cx="223.32" cy="282.07" r="1.85" fill="none" stroke="#ff7f2a" stroke-width="0.5"/>
<circle cx="225.71" cy="282.13" r="1.85" fill="none" stroke="#ff7f2a" stroke-width="0.5"/>
<circle cx="228.11" cy="282.19" r="1.85" fill="none" stroke="#ff7f2a" stroke-width="0.5"/>
<circle cx="230.51" cy="282.26" r="1.85" fill="none" stroke="#ff7f2a" stroke-width="0.5"/>
<circle cx="232.91" cy="282.32" r="1.85" fill="none" stroke="#ff7f2a" stroke-width="0.5"/>
<circle cx="235.31" cy="282.38" r="1.85" fill="none" stroke="#ff7f2a" stroke-width="0.5"/>
<circle cx="237.46" cy="281.51" r="1.85" fill="none" stroke="#ff7f2a" stroke-width="0.5"/>
<circle cx="246.7" cy="267.6" r="1.85" fill="none" stroke="#ff7f2a" stroke-width="0.5"/>
<circle cx="248.31" cy="267.06" r="1.85" fill="none" stroke="#ff7f2a" stroke-width="0.5"/>
<circle cx="249.93" cy="266.52" r="1.85" fill="none" stroke="#ff7f2a" stroke-width="0.5"/>
<circle cx="251.47" cy="266.77" r="1.85" fill="none" stroke="#ff7f2a" stroke-width="0.5"/>
<circle cx="252.97" cy="267.57" r="1.85" fill="none" stroke="#ff7f2a" stroke-width="0.5"/>
<circle cx="254.47" cy="268.38" r="1.85" fill="none" stroke="#ff7f2a" stroke-width="0.5"/>
<circle cx="255.96" cy="269.18" r="1.85" fill="none" stroke="#ff7f2a" stroke-width="0.5"/>
<circle cx="257.46" cy="269.99" r="1.85" fill="none" stroke="#ff7f2a" stroke-width="0.5"/>
<circle cx="258.96" cy="270.8" r="1.85" fill="none" stroke="#ff7f2a" stroke-width="0.5"/>
<circle cx="260.45" cy="271.6" r="1.85" fill="none" stroke="#ff7f2a" stroke-width="0.5"/>
<circle cx="261.95" cy="272.41" r="1.85" fill="none" stroke="#ff7f2a" stroke-width="0.5"/>
<circle cx="263.45" cy="273.21" r="1.85" fill="none" stroke="#ff7f2a" stroke-width="0.5"/>
<circle cx="264.94" cy="274.02" r="1.85" fill="none" stroke="#ff7f2a" stroke-width="0.5"/>
<circle cx="266.44" cy="274.82" r="1.85" fill="none" stroke="#ff7f2a" stroke-width="0.5"/>
<circle cx="267.94" cy="275.63" r="1.85" fill="none" stroke="#ff7f2a" stroke-width="0.5"/>
<circle cx="269.44" cy="276.43" r="1.85" fill="none" stroke="#ff7f2a" stroke-width="0.5"/>
<circle cx="270.93" cy="277.24" r="1.85" fill="none" stroke="#ff7f2a" stroke-width="0.5"/>
<circle cx="272.43" cy="278.04" r="1.85" fill="none" stroke="#ff7f2a" stroke-width="0.5"/>
<circle cx="273.93" cy="278.85" r="1.85" fill="none" stroke="#ff7f2a" stroke-width="0.5"/>
<circle cx="275.42" cy="279.66" r="1.85" fill="none" stroke="#ff7f2a" stroke-width="0.5"/>
<circle cx="276.92" cy="280.46" r="1.85" fill="none" stroke="#ff7f2a" stroke-width="0.5"/>
<circle cx="278.42" cy="281.27" r="1.85" fill="none" stroke="#ff7f2a" stroke-width="0.5"/>
<circle cx="279.92" cy="282.07" r="1.85" fill="none" stroke="#ff7f2a" stroke-width="0.5"/>
<circle cx="281.41" cy="282.88" r="1.85" fill="none" stroke="#ff7f2a" stroke-width="0.5"/>
<circle cx="282.91" cy="283.68" r="1.85" fill="none" stroke="#ff7f2a" stroke-width="0.5"/>
<circle cx="284.41" cy="284.49" r="1.85" fill="none" stroke="#ff7f2a" stroke-width="0.5"/>
<polyline points="113.4,278.5 115.87,278.87 118.29,279.46 120.6,280.39 122.92,281.33 125.18,282.4 127.41,283.53 129.64,284.66 131.87,285.79 134.06,286.99 136.25,288.2 138.44,289.4 140.67,290.54 142.96,291.54 145.25,292.55 147.53,293.55 149.79,294.62 153.2,291.8 154.29,289.66 155.37,287.52 156.25,285.29 157.12,283.05 158.89,281.53 160.96,280.63 163.29,281.17 165.63,281.71 168.01,282 170.4,282.24 172.78,282.24 175.13,281.77 177.48,281.3 179.87,281.07 182.26,280.9 184.66,280.88 187.05,281.06 189.44,281.29 191.79,281.76 194.14,282.23 196.52,282.31 198.92,282.16 201.31,282.01 203.62,281.36 205.92,280.67 208.27,280.19 212.3,275.6 214.6,271.5 217.6,267.6 219.85,268.68 222.11,269.77 224.43,270.67 226.81,271.44 229.19,272.21 231.53,273.07 233.75,274.21 235.98,275.35 238.2,276.49 240.44,277.61 242.68,278.72 244.92,279.82 247.11,281.01 249.11,282.52 251.1,284.02" fill="none" stroke="#1010f0" stroke-width="0.6" stroke-linejoin="round" />
<circle cx="113.4" cy="278.5" r="1.85" fill="none" stroke="#1010f0" stroke-width="0.6"/>
<circle cx="115.87" cy="278.87" r="1.85" fill="none" stroke="#1010f0" stroke-width="0.6"/>
<circle cx="118.29" cy="279.46" r="1.85" fill="none" stroke="#1010f0" stroke-width="0.6"/>
<circle cx="120.6" cy="280.39" r="1.85" fill="none" stroke="#1010f0" stroke-width="0.6"/>
<circle cx="122.92" cy="281.33" r="1.85" fill="none" stroke="#1010f0" stroke-width="0.6"/>
<circle cx="125.18" cy="282.4" r="1.85" fill="none" stroke="#1010f0" stroke-width="0.6"/>
<circle cx="127.41" cy="283.53" r="1.85" fill="none" stroke="#1010f0" stroke-width="0.6"/>
<circle cx="129.64" cy="284.66" r="1.85" fill="none" stroke="#1010f0" stroke-width="0.6"/>
<circle cx="131.87" cy="285.79" r="1.85" fill="none" stroke="#1010f0" stroke-width="0.6"/>
<circle cx="134.06" cy="286.99" r="1.85" fill="none" stroke="#1010f0" stroke-width="0.6"/>
<circle cx="136.25" cy="288.2" r="1.85" fill="none" stroke="#1010f0" stroke-width="0.6"/>
<circle cx="138.44" cy="289.4" r="1.85" fill="none" stroke="#1010f0" stroke-width="0.6"/>
<circle cx="140.67" cy="290.54" r="1.85" fill="none" stroke="#1010f0" stroke-width="0.6"/>
<circle cx="142.96" cy="291.54" r="1.85" fill="none" stroke="#1010f0" stroke-width="0.6"/>
<circle cx="145.25" cy="292.55" r="1.85" fill="none" stroke="#1010f0" stroke-width="0.6"/>
<circle cx="147.53" cy="293.55" r="1.85" fill="none" stroke="#1010f0" stroke-width="0.6"/>
<circle cx="149.79" cy="294.62" r="1.85" fill="none" stroke="#1010f0" stroke-width="0.6"/>
<circle cx="153.2" cy="291.8" r="1.85" fill="none" stroke="#1010f0" stroke-width="0.6"/>
<circle cx="154.29" cy="289.66" r="1.85" fill="none" stroke="#1010f0" stroke-width="0.6"/>
<circle cx="155.37" cy="287.52" r="1.85" fill="none" stroke="#1010f0" stroke-width="0.6"/>
<circle cx="156.25" cy="285.29" r="1.85" fill="none" stroke="#1010f0" stroke-width="0.6"/>
<circle cx="157.12" cy="283.05" r="1.85" fill="none" stroke="#1010f0" stroke-width="0.6"/>
<circle cx="158.89" cy="281.53" r="1.85" fill="none" stroke="#1010f0" stroke-width="0.6"/>
<circle cx="160.96" cy="280.63" r="1.85" fill="none" stroke="#1010f0" stroke-width="0.6"/>
<circle cx="163.29" cy="281.17" r="1.85" fill="none" stroke="#1010f0" stroke-width="0.6"/>
<circle cx="165.63" cy="281.71" r="1.85" fill="none" stroke="#1010f0" stroke-width="0.6"/>
<circle cx="168.01" cy="282" r="1.85" fill="none" stroke="#1010f0" stroke-width="0.6"/>
<circle cx="170.4" cy="282.24" r="1.85" fill="none" stroke="#1010f0" stroke-width="0.6"/>
<circle cx="172.78" cy="282.24" r="1.85" fill="none" stroke="#1010f0" stroke-width="0.6"/>
<circle cx="175.13" cy="281.77" r="1.85" fill="none" stroke="#1010f0" stroke-width="0.6"/>
<circle cx="177.48" cy="281.3" r="1.85" fill="none" stroke="#1010f0" stroke-width="0.6"/>
<circle cx="179.87" cy="281.07" r="1.85" fill="none" stroke="#1010f0" stroke-width="0.6"/>
<circle cx="182.26" cy="280.9" r="1.85" fill="none" stroke="#1010f0" stroke-width="0.6"/>
<circle cx="184.66" cy="280.88" r="1.85" fill="none" stroke="#1010f0" stroke-width="0.6"/>
<circle cx="187.05" cy="281.06" r="1.85" fill="none" stroke="#1010f0" stroke-width="0.6"/>
<circle cx="189.44" cy="281.29" r="1.85" fill="none" stroke="#1010f0" stroke-width="0.6"/>
<circle cx="191.79" cy="281.76" r="1.85" fill="none" stroke="#1010f0" stroke-width="0.6"/>
<circle cx="194.14" cy="282.23" r="1.85" fill="none" stroke="#1010f0" stroke-width="0.6"/>
<circle cx="196.52" cy="282.31" r="1.85" fill="none" stroke="#1010f0" stroke-width="0.6"/>
<circle cx="198.92" cy="282.16" r="1.85" fill="none" stroke="#1010f0" stroke-width="0.6"/>
<circle cx="201.31" cy="282.01" r="1.85" fill="none" stroke="#1010f0" stroke-width="0.6"/>
<circle cx="203.62" cy="281.36" r="1.85" fill="none" stroke="#1010f0" stroke-width="0.6"/>
<circle cx="205.92" cy="280.67" r="1.85" fill="none" stroke="#1010f0" stroke-width="0.6"/>
<circle cx="208.27" cy="280.19" r="1.85" fill="none" stroke="#1010f0" stroke-width="0.6"/>
<circle cx="212.3" cy="275.6" r="1.85" fill="none" stroke="#1010f0" stroke-width="0.6"/>
<circle cx="214.6" cy="271.5" r="1.85" fill="none" stroke="#1010f0" stroke-width="0.6"/>
<circle cx="217.6" cy="267.6" r="1.85" fill="none" stroke="#1010f0" stroke-width="0.6"/>
<circle cx="219.85" cy="268.68" r="1.85" fill="none" stroke="#1010f0" stroke-width="0.6"/>
<circle cx="222.11" cy="269.77" r="1.85" fill="none" stroke="#1010f0" stroke-width="0.6"/>
<circle cx="224.43" cy="270.67" r="1.85" fill="none" stroke="#1010f0" stroke-width="0.6"/>
<circle cx="226.81" cy="271.44" r="1.85" fill="none" stroke="#1010f0" stroke-width="0.6"/>
<circle cx="229.19" cy="272.21" r="1.85" fill="none" stroke="#1010f0" stroke-width="0.6"/>
<circle cx="231.53" cy="273.07" r="1.85" fill="none" stroke="#1010f0" stroke-width="0.6"/>
<circle cx="233.75" cy="274.21" r="1.85" fill="none" stroke="#1010f0" stroke-width="0.6"/>
<circle cx="235.98" cy="275.35" r="1.85" fill="none" stroke="#1010f0" stroke-width="0.6"/>
<circle cx="238.2" cy="276.49" r="1.85" fill="none" stroke="#1010f0" stroke-width="0.6"/>
<circle cx="240.44" cy="277.61" r="1.85" fill="none" stroke="#1010f0" stroke-width="0.6"/>
<circle cx="242.68" cy="278.72" r="1.85" fill="none" stroke="#1010f0" stroke-width="0.6"/>
<circle cx="244.92" cy="279.82" r="1.85" fill="none" stroke="#1010f0" stroke-width="0.6"/>
<circle cx="247.11" cy="281.01" r="1.85" fill="none" stroke="#1010f0" stroke-width="0.6"/>
<circle cx="249.11" cy="282.52" r="1.85" fill="none" stroke="#1010f0" stroke-width="0.6"/>
<circle cx="251.1" cy="284.02" r="1.85" fill="none" stroke="#1010f0" stroke-width="0.6"/>
<circle cx="217.6" cy="267.6" r="3.8" fill="none" stroke="#000" stroke-width="1.4"/>
<line x1="219.8" y1="271.2" x2="228.8" y2="293.6" stroke="#000" stroke-width="1.05" />
<rect x="217.1" y="297.5" width="60.7" height="43.8" fill="#fff"/>
<polygon points="217.1,297.5 277.8,297.5 275.6,299.7 220.7,299.7" fill="#a8a8a8"/>
<polygon points="217.1,297.5 220.7,299.7 220.7,339.1 217.1,341.3" fill="#e6e6e6"/>
<polygon points="217.1,341.3 220.7,339.1 275.6,339.1 277.8,341.3" fill="#d0d0d0"/>
<polygon points="277.8,297.5 275.6,299.7 275.6,339.1 277.8,341.3" fill="#e0e0e0"/>
<rect x="217.1" y="297.5" width="60.7" height="43.8" fill="none" stroke="#8a8a8a" stroke-width="0.6"/>
<rect x="220.7" y="299.7" width="54.9" height="39.4" fill="none" stroke="#8a8a8a" stroke-width="0.6"/>
<line x1="217.1" y1="297.5" x2="220.7" y2="299.7" stroke="#666" stroke-width="0.5" />
<line x1="277.8" y1="297.5" x2="275.6" y2="299.7" stroke="#666" stroke-width="0.5" />
<line x1="217.1" y1="341.3" x2="220.7" y2="339.1" stroke="#666" stroke-width="0.5" />
<line x1="277.8" y1="341.3" x2="275.6" y2="339.1" stroke="#666" stroke-width="0.5" />
<line x1="217.5" y1="341" x2="226.1" y2="341" stroke="#111" stroke-width="0.6" />
<line x1="217.5" y1="341" x2="217.5" y2="332.3" stroke="#111" stroke-width="0.6" />
<polygon points="226.6,341 224.6,340.2 224.6,341.8" fill="#111"/>
<polygon points="217.5,331.8 216.7,333.8 218.3,333.8" fill="#111"/>
<rect x="278.7" y="297.5" width="61" height="43.8" fill="#fff"/>
<polygon points="278.7,297.5 339.7,297.5 337.5,299.7 282.3,299.7" fill="#a8a8a8"/>
<polygon points="278.7,297.5 282.3,299.7 282.3,339.1 278.7,341.3" fill="#e6e6e6"/>
<polygon points="278.7,341.3 282.3,339.1 337.5,339.1 339.7,341.3" fill="#d0d0d0"/>
<polygon points="339.7,297.5 337.5,299.7 337.5,339.1 339.7,341.3" fill="#e0e0e0"/>
<rect x="278.7" y="297.5" width="61" height="43.8" fill="none" stroke="#8a8a8a" stroke-width="0.6"/>
<rect x="282.3" y="299.7" width="55.2" height="39.4" fill="none" stroke="#8a8a8a" stroke-width="0.6"/>
<line x1="278.7" y1="297.5" x2="282.3" y2="299.7" stroke="#666" stroke-width="0.5" />
<line x1="339.7" y1="297.5" x2="337.5" y2="299.7" stroke="#666" stroke-width="0.5" />
<line x1="278.7" y1="341.3" x2="282.3" y2="339.1" stroke="#666" stroke-width="0.5" />
<line x1="339.7" y1="341.3" x2="337.5" y2="339.1" stroke="#666" stroke-width="0.5" />
<line x1="279.1" y1="341" x2="287.7" y2="341" stroke="#111" stroke-width="0.6" />
<line x1="279.1" y1="341" x2="279.1" y2="332.3" stroke="#111" stroke-width="0.6" />
<polygon points="288.2,341 286.2,340.2 286.2,341.8" fill="#111"/>
<polygon points="279.1,331.8 278.3,333.8 279.9,333.8" fill="#111"/>
<ellipse cx="251.2" cy="310" rx="5" ry="3.3" fill="none" stroke="#c8c8c8" stroke-width="0.9" transform="rotate(-10 251.2 310)"/>
<ellipse cx="244.9" cy="311" rx="5.6" ry="4.0" fill="none" stroke="#222" stroke-width="0.9" transform="rotate(20 244.9 311)"/>
<path d="M306.5,300 C312,299.5 317,302 316.5,308 C316,311 313,313 310,312.5" fill="none" stroke="#c4c4c4" stroke-width="2.2"/>
<path d="M308.5,300 C313,300.5 314.5,304 313.5,308" fill="none" stroke="#e6e6e6" stroke-width="1"/>
<ellipse cx="305.6" cy="310.3" rx="6.2" ry="3.9" fill="none" stroke="#222" stroke-width="1" transform="rotate(8 305.6 310.3)"/>
<polygon points="271,317 282.6,317 282.6,314.7 288.6,319.1 282.6,323.5 282.6,321.2 271,321.2" fill="#000"/>
<text x="2.2" y="348.4" font-size="22" fill="#000" text-anchor="start" style="font-family:'Liberation Sans',sans-serif;" stroke="#000" stroke-width="0.3">g</text>
<line x1="55.8" y1="349.3" x2="55.8" y2="433.5" stroke="#111" stroke-width="0.9" />
<line x1="55.8" y1="433.5" x2="310.3" y2="433.5" stroke="#111" stroke-width="0.9" />
<line x1="310.3" y1="349.3" x2="310.3" y2="433.5" stroke="#111" stroke-width="0.9" />
<line x1="55.8" y1="433.5" x2="55.8" y2="431.1" stroke="#222" stroke-width="0.6" />
<text x="55.8" y="443.3" font-size="6.3" fill="#222" text-anchor="middle" style="font-family:'Liberation Sans',sans-serif;" >-2</text>
<line x1="87.58" y1="433.5" x2="87.58" y2="431.1" stroke="#222" stroke-width="0.6" />
<text x="87.58" y="443.3" font-size="6.3" fill="#222" text-anchor="middle" style="font-family:'Liberation Sans',sans-serif;" >-1.5</text>
<line x1="119.35" y1="433.5" x2="119.35" y2="431.1" stroke="#222" stroke-width="0.6" />
<text x="119.35" y="443.3" font-size="6.3" fill="#222" text-anchor="middle" style="font-family:'Liberation Sans',sans-serif;" >-1</text>
<line x1="151.12" y1="433.5" x2="151.12" y2="431.1" stroke="#222" stroke-width="0.6" />
<text x="151.12" y="443.3" font-size="6.3" fill="#222" text-anchor="middle" style="font-family:'Liberation Sans',sans-serif;" >-0.5</text>
<line x1="182.9" y1="433.5" x2="182.9" y2="431.1" stroke="#222" stroke-width="0.6" />
<text x="182.9" y="443.3" font-size="6.3" fill="#222" text-anchor="middle" style="font-family:'Liberation Sans',sans-serif;" >0</text>
<line x1="214.68" y1="433.5" x2="214.68" y2="431.1" stroke="#222" stroke-width="0.6" />
<text x="214.68" y="443.3" font-size="6.3" fill="#222" text-anchor="middle" style="font-family:'Liberation Sans',sans-serif;" >0.5</text>
<line x1="246.45" y1="433.5" x2="246.45" y2="431.1" stroke="#222" stroke-width="0.6" />
<text x="246.45" y="443.3" font-size="6.3" fill="#222" text-anchor="middle" style="font-family:'Liberation Sans',sans-serif;" >1</text>
<line x1="278.23" y1="433.5" x2="278.23" y2="431.1" stroke="#222" stroke-width="0.6" />
<text x="278.23" y="443.3" font-size="6.3" fill="#222" text-anchor="middle" style="font-family:'Liberation Sans',sans-serif;" >1.5</text>
<line x1="310" y1="433.5" x2="310" y2="431.1" stroke="#222" stroke-width="0.6" />
<text x="310" y="443.3" font-size="6.3" fill="#222" text-anchor="middle" style="font-family:'Liberation Sans',sans-serif;" >2</text>
<line x1="55.8" y1="363.2" x2="58" y2="363.2" stroke="#222" stroke-width="0.6" />
<text x="50.6" y="365.3" font-size="6.3" fill="#222" text-anchor="end" style="font-family:'Liberation Sans',sans-serif;" >84.2</text>
<line x1="55.8" y1="382.1" x2="58" y2="382.1" stroke="#222" stroke-width="0.6" />
<text x="50.6" y="384.2" font-size="6.3" fill="#222" text-anchor="end" style="font-family:'Liberation Sans',sans-serif;" >84</text>
<line x1="55.8" y1="401" x2="58" y2="401" stroke="#222" stroke-width="0.6" />
<text x="50.6" y="403.1" font-size="6.3" fill="#222" text-anchor="end" style="font-family:'Liberation Sans',sans-serif;" >83.8</text>
<line x1="55.8" y1="419.9" x2="58" y2="419.9" stroke="#222" stroke-width="0.6" />
<text x="50.6" y="422" font-size="6.3" fill="#222" text-anchor="end" style="font-family:'Liberation Sans',sans-serif;" >83.6</text>
<line x1="310.3" y1="353" x2="308.1" y2="353" stroke="#222" stroke-width="0.6" />
<text x="313.2" y="355.1" font-size="6.3" fill="#222" text-anchor="start" style="font-family:'Liberation Sans',sans-serif;" >0.307</text>
<line x1="310.3" y1="379" x2="308.1" y2="379" stroke="#222" stroke-width="0.6" />
<text x="313.2" y="381.1" font-size="6.3" fill="#222" text-anchor="start" style="font-family:'Liberation Sans',sans-serif;" >0.306</text>
<line x1="310.3" y1="405" x2="308.1" y2="405" stroke="#222" stroke-width="0.6" />
<text x="313.2" y="407.1" font-size="6.3" fill="#222" text-anchor="start" style="font-family:'Liberation Sans',sans-serif;" >0.305</text>
<line x1="310.3" y1="431" x2="308.1" y2="431" stroke="#222" stroke-width="0.6" />
<text x="313.2" y="433.1" font-size="6.3" fill="#222" text-anchor="start" style="font-family:'Liberation Sans',sans-serif;" >0.304</text>
<text x="28.9" y="396" font-size="8.8" fill="#111" text-anchor="middle" style="font-family:'Liberation Sans',sans-serif;" transform="rotate(-90 28.9 396)" textLength="71.5" lengthAdjust="spacing">Free energy (<tspan font-family="Liberation Serif" font-style="italic">Kp</tspan><tspan font-family="Liberation Serif" font-size="6.5" dy="1.2">0</tspan><tspan dy="-1.2">)</tspan></text>
<text x="343.2" y="398.2" font-size="8.6" fill="#111" text-anchor="middle" style="font-family:'Liberation Sans',sans-serif;" transform="rotate(-90 343.2 398.2)" textLength="79" lengthAdjust="spacing">Free energy (10<tspan font-size="5.5" dy="-3.2">6</tspan><tspan dy="3.2"> </tspan><tspan font-family="Liberation Serif" font-style="italic">k</tspan><tspan font-family="Liberation Serif" font-style="italic" font-size="6.5" dy="1.2">B</tspan><tspan font-family="Liberation Serif" font-style="italic" dy="-1.2">T</tspan>)</text>
<text x="186" y="458.9" font-size="11" fill="#111" text-anchor="middle" style="font-family:'Liberation Serif',serif;" textLength="26.8" lengthAdjust="spacing"><tspan font-style="italic">z</tspan><tspan font-style="italic" font-size="7" dy="1.4">f</tspan><tspan dy="-1.4"> (</tspan><tspan font-style="italic">p</tspan><tspan font-size="7" dy="1.4">0</tspan><tspan dy="-1.4">)</tspan></text>
<polyline points="84.6,376.1 87.4,395.1 88.5,399.4 90,400.5 91.7,400 93.4,398.7 95,396.6 96.7,393.6 98.2,389.7 99.9,385.3 101.4,381.5 102.9,376.7 105.3,370.9 109,362.7 120.9,359 126.3,360.9 130.6,363.3 134.9,364.4 138.1,362.7 141.4,359.9 144.6,358.4 147.9,357.9 151.2,357.9 154.5,358.1 157.6,358.7 160.5,359.8 163.3,361 167.3,361.6 171.6,360.5 175.9,358.4 179.5,357.9 182.9,357.9 186.3,357.9 189.9,358.4 194.2,360.5 198.5,361.6 202.5,361 205.3,359.8 208.2,358.7 211.3,358.1 214.6,357.9 217.9,357.9 221.2,358.4 224.4,359.9 227.7,362.7 230.9,364.4 235.2,363.3 239.5,360.9 244.9,359 256.8,362.7 260.5,370.9 262.9,376.7 264.4,381.5 265.9,385.3 267.6,389.7 269.1,393.6 270.8,396.6 272.4,398.7 274.1,400 275.8,400.5 277.3,399.4 278.4,395.1 280.8,388.9" fill="none" stroke="#ff8033" stroke-width="0.8" stroke-linejoin="round" />
<circle cx="84.6" cy="376.1" r="1.8" fill="none" stroke="#ff8033" stroke-width="0.85"/>
<circle cx="87.4" cy="395.1" r="1.8" fill="none" stroke="#ff8033" stroke-width="0.85"/>
<circle cx="88.5" cy="399.4" r="1.8" fill="none" stroke="#ff8033" stroke-width="0.85"/>
<circle cx="90" cy="400.5" r="1.8" fill="none" stroke="#ff8033" stroke-width="0.85"/>
<circle cx="91.7" cy="400" r="1.8" fill="none" stroke="#ff8033" stroke-width="0.85"/>
<circle cx="93.4" cy="398.7" r="1.8" fill="none" stroke="#ff8033" stroke-width="0.85"/>
<circle cx="95" cy="396.6" r="1.8" fill="none" stroke="#ff8033" stroke-width="0.85"/>
<circle cx="96.7" cy="393.6" r="1.8" fill="none" stroke="#ff8033" stroke-width="0.85"/>
<circle cx="98.2" cy="389.7" r="1.8" fill="none" stroke="#ff8033" stroke-width="0.85"/>
<circle cx="99.9" cy="385.3" r="1.8" fill="none" stroke="#ff8033" stroke-width="0.85"/>
<circle cx="101.4" cy="381.5" r="1.8" fill="none" stroke="#ff8033" stroke-width="0.85"/>
<circle cx="102.9" cy="376.7" r="1.8" fill="none" stroke="#ff8033" stroke-width="0.85"/>
<circle cx="105.3" cy="370.9" r="1.8" fill="none" stroke="#ff8033" stroke-width="0.85"/>
<circle cx="109" cy="362.7" r="1.8" fill="none" stroke="#ff8033" stroke-width="0.85"/>
<circle cx="120.9" cy="359" r="1.8" fill="none" stroke="#ff8033" stroke-width="0.85"/>
<circle cx="126.3" cy="360.9" r="1.8" fill="none" stroke="#ff8033" stroke-width="0.85"/>
<circle cx="130.6" cy="363.3" r="1.8" fill="none" stroke="#ff8033" stroke-width="0.85"/>
<circle cx="134.9" cy="364.4" r="1.8" fill="none" stroke="#ff8033" stroke-width="0.85"/>
<circle cx="138.1" cy="362.7" r="1.8" fill="none" stroke="#ff8033" stroke-width="0.85"/>
<circle cx="141.4" cy="359.9" r="1.8" fill="none" stroke="#ff8033" stroke-width="0.85"/>
<circle cx="144.6" cy="358.4" r="1.8" fill="none" stroke="#ff8033" stroke-width="0.85"/>
<circle cx="147.9" cy="357.9" r="1.8" fill="none" stroke="#ff8033" stroke-width="0.85"/>
<circle cx="151.2" cy="357.9" r="1.8" fill="none" stroke="#ff8033" stroke-width="0.85"/>
<circle cx="154.5" cy="358.1" r="1.8" fill="none" stroke="#ff8033" stroke-width="0.85"/>
<circle cx="157.6" cy="358.7" r="1.8" fill="none" stroke="#ff8033" stroke-width="0.85"/>
<circle cx="160.5" cy="359.8" r="1.8" fill="none" stroke="#ff8033" stroke-width="0.85"/>
<circle cx="163.3" cy="361" r="1.8" fill="none" stroke="#ff8033" stroke-width="0.85"/>
<circle cx="167.3" cy="361.6" r="1.8" fill="none" stroke="#ff8033" stroke-width="0.85"/>
<circle cx="171.6" cy="360.5" r="1.8" fill="none" stroke="#ff8033" stroke-width="0.85"/>
<circle cx="175.9" cy="358.4" r="1.8" fill="none" stroke="#ff8033" stroke-width="0.85"/>
<circle cx="179.5" cy="357.9" r="1.8" fill="none" stroke="#ff8033" stroke-width="0.85"/>
<circle cx="182.9" cy="357.9" r="1.8" fill="none" stroke="#ff8033" stroke-width="0.85"/>
<circle cx="186.3" cy="357.9" r="1.8" fill="none" stroke="#ff8033" stroke-width="0.85"/>
<circle cx="189.9" cy="358.4" r="1.8" fill="none" stroke="#ff8033" stroke-width="0.85"/>
<circle cx="194.2" cy="360.5" r="1.8" fill="none" stroke="#ff8033" stroke-width="0.85"/>
<circle cx="198.5" cy="361.6" r="1.8" fill="none" stroke="#ff8033" stroke-width="0.85"/>
<circle cx="202.5" cy="361" r="1.8" fill="none" stroke="#ff8033" stroke-width="0.85"/>
<circle cx="205.3" cy="359.8" r="1.8" fill="none" stroke="#ff8033" stroke-width="0.85"/>
<circle cx="208.2" cy="358.7" r="1.8" fill="none" stroke="#ff8033" stroke-width="0.85"/>
<circle cx="211.3" cy="358.1" r="1.8" fill="none" stroke="#ff8033" stroke-width="0.85"/>
<circle cx="214.6" cy="357.9" r="1.8" fill="none" stroke="#ff8033" stroke-width="0.85"/>
<circle cx="217.9" cy="357.9" r="1.8" fill="none" stroke="#ff8033" stroke-width="0.85"/>
<circle cx="221.2" cy="358.4" r="1.8" fill="none" stroke="#ff8033" stroke-width="0.85"/>
<circle cx="224.4" cy="359.9" r="1.8" fill="none" stroke="#ff8033" stroke-width="0.85"/>
<circle cx="227.7" cy="362.7" r="1.8" fill="none" stroke="#ff8033" stroke-width="0.85"/>
<circle cx="230.9" cy="364.4" r="1.8" fill="none" stroke="#ff8033" stroke-width="0.85"/>
<circle cx="235.2" cy="363.3" r="1.8" fill="none" stroke="#ff8033" stroke-width="0.85"/>
<circle cx="239.5" cy="360.9" r="1.8" fill="none" stroke="#ff8033" stroke-width="0.85"/>
<circle cx="244.9" cy="359" r="1.8" fill="none" stroke="#ff8033" stroke-width="0.85"/>
<circle cx="256.8" cy="362.7" r="1.8" fill="none" stroke="#ff8033" stroke-width="0.85"/>
<circle cx="260.5" cy="370.9" r="1.8" fill="none" stroke="#ff8033" stroke-width="0.85"/>
<circle cx="262.9" cy="376.7" r="1.8" fill="none" stroke="#ff8033" stroke-width="0.85"/>
<circle cx="264.4" cy="381.5" r="1.8" fill="none" stroke="#ff8033" stroke-width="0.85"/>
<circle cx="265.9" cy="385.3" r="1.8" fill="none" stroke="#ff8033" stroke-width="0.85"/>
<circle cx="267.6" cy="389.7" r="1.8" fill="none" stroke="#ff8033" stroke-width="0.85"/>
<circle cx="269.1" cy="393.6" r="1.8" fill="none" stroke="#ff8033" stroke-width="0.85"/>
<circle cx="270.8" cy="396.6" r="1.8" fill="none" stroke="#ff8033" stroke-width="0.85"/>
<circle cx="272.4" cy="398.7" r="1.8" fill="none" stroke="#ff8033" stroke-width="0.85"/>
<circle cx="274.1" cy="400" r="1.8" fill="none" stroke="#ff8033" stroke-width="0.85"/>
<circle cx="275.8" cy="400.5" r="1.8" fill="none" stroke="#ff8033" stroke-width="0.85"/>
<circle cx="277.3" cy="399.4" r="1.8" fill="none" stroke="#ff8033" stroke-width="0.85"/>
<circle cx="278.4" cy="395.1" r="1.8" fill="none" stroke="#ff8033" stroke-width="0.85"/>
<circle cx="280.8" cy="388.9" r="1.8" fill="none" stroke="#ff8033" stroke-width="0.85"/>
<polyline points="117,399.8 119.3,416 120.9,419.5 123,420.3 125.2,418.8 127.3,416.7 129.1,413.4 130.6,409.5 132.3,405.9 133.8,401.5 135.5,396.6 137.7,390.1 146.8,381.7 153.9,378.4 159.3,380.6 163,382.8 166.2,384.7 169.4,383.2 172.7,380.6 175.9,378.4 179.4,377.4 182.9,377.1 186.4,377.4 189.9,378.4 193.1,380.6 196.4,383.2 199.6,384.7 202.8,382.8 206.5,380.6 211.9,378.4 219,381.7 228.1,390.1 230.3,396.6 232,401.5 233.5,405.9 235.2,409.5 236.7,413.4 238.5,416.7 240.6,418.8 242.8,420.3 244.9,419.5 246.5,416 248.2,410.9" fill="none" stroke="#1515e8" stroke-width="0.8" stroke-linejoin="round" />
<circle cx="117" cy="399.8" r="1.8" fill="none" stroke="#1515e8" stroke-width="0.85"/>
<circle cx="119.3" cy="416" r="1.8" fill="none" stroke="#1515e8" stroke-width="0.85"/>
<circle cx="120.9" cy="419.5" r="1.8" fill="none" stroke="#1515e8" stroke-width="0.85"/>
<circle cx="123" cy="420.3" r="1.8" fill="none" stroke="#1515e8" stroke-width="0.85"/>
<circle cx="125.2" cy="418.8" r="1.8" fill="none" stroke="#1515e8" stroke-width="0.85"/>
<circle cx="127.3" cy="416.7" r="1.8" fill="none" stroke="#1515e8" stroke-width="0.85"/>
<circle cx="129.1" cy="413.4" r="1.8" fill="none" stroke="#1515e8" stroke-width="0.85"/>
<circle cx="130.6" cy="409.5" r="1.8" fill="none" stroke="#1515e8" stroke-width="0.85"/>
<circle cx="132.3" cy="405.9" r="1.8" fill="none" stroke="#1515e8" stroke-width="0.85"/>
<circle cx="133.8" cy="401.5" r="1.8" fill="none" stroke="#1515e8" stroke-width="0.85"/>
<circle cx="135.5" cy="396.6" r="1.8" fill="none" stroke="#1515e8" stroke-width="0.85"/>
<circle cx="137.7" cy="390.1" r="1.8" fill="none" stroke="#1515e8" stroke-width="0.85"/>
<circle cx="146.8" cy="381.7" r="1.8" fill="none" stroke="#1515e8" stroke-width="0.85"/>
<circle cx="153.9" cy="378.4" r="1.8" fill="none" stroke="#1515e8" stroke-width="0.85"/>
<circle cx="159.3" cy="380.6" r="1.8" fill="none" stroke="#1515e8" stroke-width="0.85"/>
<circle cx="163" cy="382.8" r="1.8" fill="none" stroke="#1515e8" stroke-width="0.85"/>
<circle cx="166.2" cy="384.7" r="1.8" fill="none" stroke="#1515e8" stroke-width="0.85"/>
<circle cx="169.4" cy="383.2" r="1.8" fill="none" stroke="#1515e8" stroke-width="0.85"/>
<circle cx="172.7" cy="380.6" r="1.8" fill="none" stroke="#1515e8" stroke-width="0.85"/>
<circle cx="175.9" cy="378.4" r="1.8" fill="none" stroke="#1515e8" stroke-width="0.85"/>
<circle cx="179.4" cy="377.4" r="1.8" fill="none" stroke="#1515e8" stroke-width="0.85"/>
<circle cx="182.9" cy="377.1" r="1.8" fill="none" stroke="#1515e8" stroke-width="0.85"/>
<circle cx="186.4" cy="377.4" r="1.8" fill="none" stroke="#1515e8" stroke-width="0.85"/>
<circle cx="189.9" cy="378.4" r="1.8" fill="none" stroke="#1515e8" stroke-width="0.85"/>
<circle cx="193.1" cy="380.6" r="1.8" fill="none" stroke="#1515e8" stroke-width="0.85"/>
<circle cx="196.4" cy="383.2" r="1.8" fill="none" stroke="#1515e8" stroke-width="0.85"/>
<circle cx="199.6" cy="384.7" r="1.8" fill="none" stroke="#1515e8" stroke-width="0.85"/>
<circle cx="202.8" cy="382.8" r="1.8" fill="none" stroke="#1515e8" stroke-width="0.85"/>
<circle cx="206.5" cy="380.6" r="1.8" fill="none" stroke="#1515e8" stroke-width="0.85"/>
<circle cx="211.9" cy="378.4" r="1.8" fill="none" stroke="#1515e8" stroke-width="0.85"/>
<circle cx="219" cy="381.7" r="1.8" fill="none" stroke="#1515e8" stroke-width="0.85"/>
<circle cx="228.1" cy="390.1" r="1.8" fill="none" stroke="#1515e8" stroke-width="0.85"/>
<circle cx="230.3" cy="396.6" r="1.8" fill="none" stroke="#1515e8" stroke-width="0.85"/>
<circle cx="232" cy="401.5" r="1.8" fill="none" stroke="#1515e8" stroke-width="0.85"/>
<circle cx="233.5" cy="405.9" r="1.8" fill="none" stroke="#1515e8" stroke-width="0.85"/>
<circle cx="235.2" cy="409.5" r="1.8" fill="none" stroke="#1515e8" stroke-width="0.85"/>
<circle cx="236.7" cy="413.4" r="1.8" fill="none" stroke="#1515e8" stroke-width="0.85"/>
<circle cx="238.5" cy="416.7" r="1.8" fill="none" stroke="#1515e8" stroke-width="0.85"/>
<circle cx="240.6" cy="418.8" r="1.8" fill="none" stroke="#1515e8" stroke-width="0.85"/>
<circle cx="242.8" cy="420.3" r="1.8" fill="none" stroke="#1515e8" stroke-width="0.85"/>
<circle cx="244.9" cy="419.5" r="1.8" fill="none" stroke="#1515e8" stroke-width="0.85"/>
<circle cx="246.5" cy="416" r="1.8" fill="none" stroke="#1515e8" stroke-width="0.85"/>
<circle cx="248.2" cy="410.9" r="1.8" fill="none" stroke="#1515e8" stroke-width="0.85"/>
<text x="360.8" y="158.4" font-size="22" fill="#000" text-anchor="start" style="font-family:'Liberation Sans',sans-serif;" stroke="#000" stroke-width="0.3">h</text>
<line x1="396.4" y1="162.3" x2="396.4" y2="426.1" stroke="#111" stroke-width="0.9" />
<line x1="396.4" y1="426.1" x2="664.8" y2="426.1" stroke="#111" stroke-width="0.9" />
<line x1="396" y1="426.1" x2="396" y2="423.5" stroke="#222" stroke-width="0.8" />
<text x="396" y="436.3" font-size="6.3" fill="#222" text-anchor="middle" style="font-family:'Liberation Sans',sans-serif;" >-2</text>
<line x1="429.6" y1="426.1" x2="429.6" y2="423.5" stroke="#222" stroke-width="0.8" />
<text x="429.6" y="436.3" font-size="6.3" fill="#222" text-anchor="middle" style="font-family:'Liberation Sans',sans-serif;" >-1.5</text>
<line x1="463.2" y1="426.1" x2="463.2" y2="423.5" stroke="#222" stroke-width="0.8" />
<text x="463.2" y="436.3" font-size="6.3" fill="#222" text-anchor="middle" style="font-family:'Liberation Sans',sans-serif;" >-1</text>
<line x1="496.8" y1="426.1" x2="496.8" y2="423.5" stroke="#222" stroke-width="0.8" />
<text x="496.8" y="436.3" font-size="6.3" fill="#222" text-anchor="middle" style="font-family:'Liberation Sans',sans-serif;" >-0.5</text>
<line x1="530.4" y1="426.1" x2="530.4" y2="423.5" stroke="#222" stroke-width="0.8" />
<text x="530.4" y="436.3" font-size="6.3" fill="#222" text-anchor="middle" style="font-family:'Liberation Sans',sans-serif;" >0</text>
<line x1="564" y1="426.1" x2="564" y2="423.5" stroke="#222" stroke-width="0.8" />
<text x="564" y="436.3" font-size="6.3" fill="#222" text-anchor="middle" style="font-family:'Liberation Sans',sans-serif;" >0.5</text>
<line x1="597.6" y1="426.1" x2="597.6" y2="423.5" stroke="#222" stroke-width="0.8" />
<text x="597.6" y="436.3" font-size="6.3" fill="#222" text-anchor="middle" style="font-family:'Liberation Sans',sans-serif;" >1</text>
<line x1="631.2" y1="426.1" x2="631.2" y2="423.5" stroke="#222" stroke-width="0.8" />
<text x="631.2" y="436.3" font-size="6.3" fill="#222" text-anchor="middle" style="font-family:'Liberation Sans',sans-serif;" >1.5</text>
<line x1="664.8" y1="426.1" x2="664.8" y2="423.5" stroke="#222" stroke-width="0.8" />
<text x="664.8" y="436.3" font-size="6.3" fill="#222" text-anchor="middle" style="font-family:'Liberation Sans',sans-serif;" >2</text>
<line x1="396.4" y1="183.8" x2="399" y2="183.8" stroke="#222" stroke-width="0.8" />
<text x="393.4" y="186.7" font-size="6.6" fill="#222" text-anchor="end" style="font-family:'Liberation Sans',sans-serif;" >4<tspan font-family="Liberation Serif" font-style="italic" font-size="7.5">π</tspan></text>
<line x1="396.4" y1="239" x2="399" y2="239" stroke="#222" stroke-width="0.8" />
<text x="393.4" y="241.9" font-size="6.6" fill="#222" text-anchor="end" style="font-family:'Liberation Sans',sans-serif;" >2<tspan font-family="Liberation Serif" font-style="italic" font-size="7.5">π</tspan></text>
<line x1="396.4" y1="294.2" x2="399" y2="294.2" stroke="#222" stroke-width="0.8" />
<text x="393.3" y="296.6" font-size="6.5" fill="#222" text-anchor="end" style="font-family:'Liberation Sans',sans-serif;" >0</text>
<line x1="396.4" y1="349.4" x2="399" y2="349.4" stroke="#222" stroke-width="0.8" />
<text x="393.4" y="352.3" font-size="6.6" fill="#222" text-anchor="end" style="font-family:'Liberation Sans',sans-serif;" >-2<tspan font-family="Liberation Serif" font-style="italic" font-size="7.5">π</tspan></text>
<line x1="396.4" y1="404.6" x2="399" y2="404.6" stroke="#222" stroke-width="0.8" />
<text x="393.4" y="407.5" font-size="6.6" fill="#222" text-anchor="end" style="font-family:'Liberation Sans',sans-serif;" >-4<tspan font-family="Liberation Serif" font-style="italic" font-size="7.5">π</tspan></text>
<text x="377.2" y="294.2" font-size="10" fill="#111" text-anchor="middle" style="font-family:'Liberation Sans',sans-serif;" transform="rotate(-90 377.2 294.2)" ><tspan font-family="Liberation Serif" font-style="italic">ϕ</tspan> (rad)</text>
<text x="533.1" y="454.3" font-size="11" fill="#111" text-anchor="middle" style="font-family:'Liberation Serif',serif;" textLength="26.8" lengthAdjust="spacing"><tspan font-style="italic">z</tspan><tspan font-style="italic" font-size="7" dy="1.4">f</tspan><tspan dy="-1.4"> (</tspan><tspan font-style="italic">p</tspan><tspan font-size="7" dy="1.4">0</tspan><tspan dy="-1.4">)</tspan></text>
<line x1="396" y1="404.6" x2="664.8" y2="183.8" stroke="#333" stroke-width="0.5" />
<polyline points="425.7,373.1 448.4,350.8 459.4,347.1 463.4,347.1 469,344.3 474.6,340.8 480.2,336.5 485.9,331.6 491.5,326.7 497.1,322.5 504.8,315.2 510.8,310.3 520.8,302.1 530.4,294.2 530.4,294.2 540,286.3 550,278.1 556,273.2 563.7,265.9 569.3,261.7 574.9,256.8 580.6,251.9 586.2,247.6 591.8,244.1 597.4,241.3 601.4,241.3 612.4,237.6 635.1,215.3" fill="none" stroke="#ff7420" stroke-width="0.6" stroke-linejoin="round" />
<circle cx="448.4" cy="350.8" r="1.8" fill="none" stroke="#ff7420" stroke-width="0.65"/>
<circle cx="447.04" cy="352.13" r="1.8" fill="none" stroke="#ff7420" stroke-width="0.65"/>
<circle cx="445.69" cy="353.46" r="1.8" fill="none" stroke="#ff7420" stroke-width="0.65"/>
<circle cx="444.33" cy="354.79" r="1.8" fill="none" stroke="#ff7420" stroke-width="0.65"/>
<circle cx="442.98" cy="356.13" r="1.8" fill="none" stroke="#ff7420" stroke-width="0.65"/>
<circle cx="441.62" cy="357.46" r="1.8" fill="none" stroke="#ff7420" stroke-width="0.65"/>
<circle cx="440.27" cy="358.79" r="1.8" fill="none" stroke="#ff7420" stroke-width="0.65"/>
<circle cx="438.91" cy="360.12" r="1.8" fill="none" stroke="#ff7420" stroke-width="0.65"/>
<circle cx="437.56" cy="361.45" r="1.8" fill="none" stroke="#ff7420" stroke-width="0.65"/>
<circle cx="436.2" cy="362.78" r="1.8" fill="none" stroke="#ff7420" stroke-width="0.65"/>
<circle cx="434.85" cy="364.12" r="1.8" fill="none" stroke="#ff7420" stroke-width="0.65"/>
<circle cx="433.49" cy="365.45" r="1.8" fill="none" stroke="#ff7420" stroke-width="0.65"/>
<circle cx="432.14" cy="366.78" r="1.8" fill="none" stroke="#ff7420" stroke-width="0.65"/>
<circle cx="430.78" cy="368.11" r="1.8" fill="none" stroke="#ff7420" stroke-width="0.65"/>
<circle cx="429.42" cy="369.44" r="1.8" fill="none" stroke="#ff7420" stroke-width="0.65"/>
<circle cx="428.07" cy="370.77" r="1.8" fill="none" stroke="#ff7420" stroke-width="0.65"/>
<circle cx="426.71" cy="372.1" r="1.8" fill="none" stroke="#ff7420" stroke-width="0.65"/>
<circle cx="530.4" cy="294.2" r="1.8" fill="none" stroke="#ff7420" stroke-width="0.65"/>
<circle cx="528.55" cy="295.73" r="1.8" fill="none" stroke="#ff7420" stroke-width="0.65"/>
<circle cx="526.69" cy="297.25" r="1.8" fill="none" stroke="#ff7420" stroke-width="0.65"/>
<circle cx="524.84" cy="298.78" r="1.8" fill="none" stroke="#ff7420" stroke-width="0.65"/>
<circle cx="522.99" cy="300.3" r="1.8" fill="none" stroke="#ff7420" stroke-width="0.65"/>
<circle cx="521.13" cy="301.83" r="1.8" fill="none" stroke="#ff7420" stroke-width="0.65"/>
<circle cx="519.28" cy="303.35" r="1.8" fill="none" stroke="#ff7420" stroke-width="0.65"/>
<circle cx="517.42" cy="304.87" r="1.8" fill="none" stroke="#ff7420" stroke-width="0.65"/>
<circle cx="515.57" cy="306.39" r="1.8" fill="none" stroke="#ff7420" stroke-width="0.65"/>
<circle cx="513.71" cy="307.91" r="1.8" fill="none" stroke="#ff7420" stroke-width="0.65"/>
<circle cx="511.86" cy="309.43" r="1.8" fill="none" stroke="#ff7420" stroke-width="0.65"/>
<circle cx="510" cy="310.95" r="1.8" fill="none" stroke="#ff7420" stroke-width="0.65"/>
<circle cx="508.14" cy="312.47" r="1.8" fill="none" stroke="#ff7420" stroke-width="0.65"/>
<circle cx="506.28" cy="313.99" r="1.8" fill="none" stroke="#ff7420" stroke-width="0.65"/>
<circle cx="504.45" cy="315.54" r="1.8" fill="none" stroke="#ff7420" stroke-width="0.65"/>
<circle cx="502.7" cy="317.19" r="1.8" fill="none" stroke="#ff7420" stroke-width="0.65"/>
<circle cx="500.96" cy="318.84" r="1.8" fill="none" stroke="#ff7420" stroke-width="0.65"/>
<circle cx="499.22" cy="320.49" r="1.8" fill="none" stroke="#ff7420" stroke-width="0.65"/>
<circle cx="497.48" cy="322.14" r="1.8" fill="none" stroke="#ff7420" stroke-width="0.65"/>
<circle cx="495.6" cy="323.63" r="1.8" fill="none" stroke="#ff7420" stroke-width="0.65"/>
<circle cx="493.68" cy="325.07" r="1.8" fill="none" stroke="#ff7420" stroke-width="0.65"/>
<circle cx="491.76" cy="326.51" r="1.8" fill="none" stroke="#ff7420" stroke-width="0.65"/>
<circle cx="489.94" cy="328.07" r="1.8" fill="none" stroke="#ff7420" stroke-width="0.65"/>
<circle cx="488.13" cy="329.65" r="1.8" fill="none" stroke="#ff7420" stroke-width="0.65"/>
<circle cx="486.32" cy="331.23" r="1.8" fill="none" stroke="#ff7420" stroke-width="0.65"/>
<circle cx="484.51" cy="332.8" r="1.8" fill="none" stroke="#ff7420" stroke-width="0.65"/>
<circle cx="482.69" cy="334.36" r="1.8" fill="none" stroke="#ff7420" stroke-width="0.65"/>
<circle cx="480.87" cy="335.93" r="1.8" fill="none" stroke="#ff7420" stroke-width="0.65"/>
<circle cx="478.99" cy="337.43" r="1.8" fill="none" stroke="#ff7420" stroke-width="0.65"/>
<circle cx="477.09" cy="338.89" r="1.8" fill="none" stroke="#ff7420" stroke-width="0.65"/>
<circle cx="475.19" cy="340.35" r="1.8" fill="none" stroke="#ff7420" stroke-width="0.65"/>
<circle cx="473.19" cy="341.68" r="1.8" fill="none" stroke="#ff7420" stroke-width="0.65"/>
<circle cx="471.16" cy="342.95" r="1.8" fill="none" stroke="#ff7420" stroke-width="0.65"/>
<circle cx="469.12" cy="344.22" r="1.8" fill="none" stroke="#ff7420" stroke-width="0.65"/>
<circle cx="466.98" cy="345.31" r="1.8" fill="none" stroke="#ff7420" stroke-width="0.65"/>
<circle cx="464.84" cy="346.38" r="1.8" fill="none" stroke="#ff7420" stroke-width="0.65"/>
<circle cx="462.6" cy="347.1" r="1.8" fill="none" stroke="#ff7420" stroke-width="0.65"/>
<circle cx="460.2" cy="347.1" r="1.8" fill="none" stroke="#ff7420" stroke-width="0.65"/>
<circle cx="530.4" cy="294.2" r="1.8" fill="none" stroke="#ff7420" stroke-width="0.65"/>
<circle cx="532.25" cy="292.67" r="1.8" fill="none" stroke="#ff7420" stroke-width="0.65"/>
<circle cx="534.11" cy="291.15" r="1.8" fill="none" stroke="#ff7420" stroke-width="0.65"/>
<circle cx="535.96" cy="289.62" r="1.8" fill="none" stroke="#ff7420" stroke-width="0.65"/>
<circle cx="537.81" cy="288.1" r="1.8" fill="none" stroke="#ff7420" stroke-width="0.65"/>
<circle cx="539.67" cy="286.57" r="1.8" fill="none" stroke="#ff7420" stroke-width="0.65"/>
<circle cx="541.52" cy="285.05" r="1.8" fill="none" stroke="#ff7420" stroke-width="0.65"/>
<circle cx="543.38" cy="283.53" r="1.8" fill="none" stroke="#ff7420" stroke-width="0.65"/>
<circle cx="545.23" cy="282.01" r="1.8" fill="none" stroke="#ff7420" stroke-width="0.65"/>
<circle cx="547.09" cy="280.49" r="1.8" fill="none" stroke="#ff7420" stroke-width="0.65"/>
<circle cx="548.94" cy="278.97" r="1.8" fill="none" stroke="#ff7420" stroke-width="0.65"/>
<circle cx="550.8" cy="277.45" r="1.8" fill="none" stroke="#ff7420" stroke-width="0.65"/>
<circle cx="552.66" cy="275.93" r="1.8" fill="none" stroke="#ff7420" stroke-width="0.65"/>
<circle cx="554.52" cy="274.41" r="1.8" fill="none" stroke="#ff7420" stroke-width="0.65"/>
<circle cx="556.35" cy="272.86" r="1.8" fill="none" stroke="#ff7420" stroke-width="0.65"/>
<circle cx="558.1" cy="271.21" r="1.8" fill="none" stroke="#ff7420" stroke-width="0.65"/>
<circle cx="559.84" cy="269.56" r="1.8" fill="none" stroke="#ff7420" stroke-width="0.65"/>
<circle cx="561.58" cy="267.91" r="1.8" fill="none" stroke="#ff7420" stroke-width="0.65"/>
<circle cx="563.32" cy="266.26" r="1.8" fill="none" stroke="#ff7420" stroke-width="0.65"/>
<circle cx="565.2" cy="264.77" r="1.8" fill="none" stroke="#ff7420" stroke-width="0.65"/>
<circle cx="567.12" cy="263.33" r="1.8" fill="none" stroke="#ff7420" stroke-width="0.65"/>
<circle cx="569.04" cy="261.89" r="1.8" fill="none" stroke="#ff7420" stroke-width="0.65"/>
<circle cx="570.86" cy="260.33" r="1.8" fill="none" stroke="#ff7420" stroke-width="0.65"/>
<circle cx="572.67" cy="258.75" r="1.8" fill="none" stroke="#ff7420" stroke-width="0.65"/>
<circle cx="574.48" cy="257.17" r="1.8" fill="none" stroke="#ff7420" stroke-width="0.65"/>
<circle cx="576.29" cy="255.6" r="1.8" fill="none" stroke="#ff7420" stroke-width="0.65"/>
<circle cx="578.11" cy="254.04" r="1.8" fill="none" stroke="#ff7420" stroke-width="0.65"/>
<circle cx="579.93" cy="252.47" r="1.8" fill="none" stroke="#ff7420" stroke-width="0.65"/>
<circle cx="581.81" cy="250.97" r="1.8" fill="none" stroke="#ff7420" stroke-width="0.65"/>
<circle cx="583.71" cy="249.51" r="1.8" fill="none" stroke="#ff7420" stroke-width="0.65"/>
<circle cx="585.61" cy="248.05" r="1.8" fill="none" stroke="#ff7420" stroke-width="0.65"/>
<circle cx="587.61" cy="246.72" r="1.8" fill="none" stroke="#ff7420" stroke-width="0.65"/>
<circle cx="589.64" cy="245.45" r="1.8" fill="none" stroke="#ff7420" stroke-width="0.65"/>
<circle cx="591.68" cy="244.18" r="1.8" fill="none" stroke="#ff7420" stroke-width="0.65"/>
<circle cx="593.82" cy="243.09" r="1.8" fill="none" stroke="#ff7420" stroke-width="0.65"/>
<circle cx="595.96" cy="242.02" r="1.8" fill="none" stroke="#ff7420" stroke-width="0.65"/>
<circle cx="598.2" cy="241.3" r="1.8" fill="none" stroke="#ff7420" stroke-width="0.65"/>
<circle cx="600.6" cy="241.3" r="1.8" fill="none" stroke="#ff7420" stroke-width="0.65"/>
<circle cx="612.4" cy="237.6" r="1.8" fill="none" stroke="#ff7420" stroke-width="0.65"/>
<circle cx="613.76" cy="236.27" r="1.8" fill="none" stroke="#ff7420" stroke-width="0.65"/>
<circle cx="615.11" cy="234.94" r="1.8" fill="none" stroke="#ff7420" stroke-width="0.65"/>
<circle cx="616.47" cy="233.61" r="1.8" fill="none" stroke="#ff7420" stroke-width="0.65"/>
<circle cx="617.82" cy="232.27" r="1.8" fill="none" stroke="#ff7420" stroke-width="0.65"/>
<circle cx="619.18" cy="230.94" r="1.8" fill="none" stroke="#ff7420" stroke-width="0.65"/>
<circle cx="620.53" cy="229.61" r="1.8" fill="none" stroke="#ff7420" stroke-width="0.65"/>
<circle cx="621.89" cy="228.28" r="1.8" fill="none" stroke="#ff7420" stroke-width="0.65"/>
<circle cx="623.24" cy="226.95" r="1.8" fill="none" stroke="#ff7420" stroke-width="0.65"/>
<circle cx="624.6" cy="225.62" r="1.8" fill="none" stroke="#ff7420" stroke-width="0.65"/>
<circle cx="625.95" cy="224.28" r="1.8" fill="none" stroke="#ff7420" stroke-width="0.65"/>
<circle cx="627.31" cy="222.95" r="1.8" fill="none" stroke="#ff7420" stroke-width="0.65"/>
<circle cx="628.66" cy="221.62" r="1.8" fill="none" stroke="#ff7420" stroke-width="0.65"/>
<circle cx="630.02" cy="220.29" r="1.8" fill="none" stroke="#ff7420" stroke-width="0.65"/>
<circle cx="631.38" cy="218.96" r="1.8" fill="none" stroke="#ff7420" stroke-width="0.65"/>
<circle cx="632.73" cy="217.63" r="1.8" fill="none" stroke="#ff7420" stroke-width="0.65"/>
<circle cx="634.09" cy="216.3" r="1.8" fill="none" stroke="#ff7420" stroke-width="0.65"/>
<polyline points="460.6,345.7 478.1,326 482.3,323.9 488.7,321.8 493.6,319.7 498.5,318.3 505.2,315.2 530.4,294.2 530.4,294.2 555.6,273.2 562.3,270.1 567.2,268.7 572.1,266.6 578.5,264.5 582.7,262.4 600.2,242.7" fill="none" stroke="#0000ff" stroke-width="0.7" stroke-linejoin="round" />
<circle cx="530.4" cy="294.2" r="1.95" fill="none" stroke="#0000ff" stroke-width="0.75"/>
<circle cx="528.48" cy="295.8" r="1.95" fill="none" stroke="#0000ff" stroke-width="0.75"/>
<circle cx="526.56" cy="297.4" r="1.95" fill="none" stroke="#0000ff" stroke-width="0.75"/>
<circle cx="524.64" cy="299" r="1.95" fill="none" stroke="#0000ff" stroke-width="0.75"/>
<circle cx="522.72" cy="300.6" r="1.95" fill="none" stroke="#0000ff" stroke-width="0.75"/>
<circle cx="520.8" cy="302.2" r="1.95" fill="none" stroke="#0000ff" stroke-width="0.75"/>
<circle cx="518.88" cy="303.8" r="1.95" fill="none" stroke="#0000ff" stroke-width="0.75"/>
<circle cx="516.96" cy="305.4" r="1.95" fill="none" stroke="#0000ff" stroke-width="0.75"/>
<circle cx="515.04" cy="307" r="1.95" fill="none" stroke="#0000ff" stroke-width="0.75"/>
<circle cx="513.12" cy="308.6" r="1.95" fill="none" stroke="#0000ff" stroke-width="0.75"/>
<circle cx="511.19" cy="310.2" r="1.95" fill="none" stroke="#0000ff" stroke-width="0.75"/>
<circle cx="509.27" cy="311.81" r="1.95" fill="none" stroke="#0000ff" stroke-width="0.75"/>
<circle cx="507.35" cy="313.41" r="1.95" fill="none" stroke="#0000ff" stroke-width="0.75"/>
<circle cx="505.43" cy="315.01" r="1.95" fill="none" stroke="#0000ff" stroke-width="0.75"/>
<circle cx="498.5" cy="318.3" r="1.95" fill="none" stroke="#0000ff" stroke-width="0.75"/>
<circle cx="493.6" cy="319.7" r="1.95" fill="none" stroke="#0000ff" stroke-width="0.75"/>
<circle cx="488.7" cy="321.8" r="1.95" fill="none" stroke="#0000ff" stroke-width="0.75"/>
<circle cx="482.3" cy="323.9" r="1.95" fill="none" stroke="#0000ff" stroke-width="0.75"/>
<circle cx="478.1" cy="326" r="1.95" fill="none" stroke="#0000ff" stroke-width="0.75"/>
<circle cx="476.71" cy="327.57" r="1.95" fill="none" stroke="#0000ff" stroke-width="0.75"/>
<circle cx="475.31" cy="329.14" r="1.95" fill="none" stroke="#0000ff" stroke-width="0.75"/>
<circle cx="473.92" cy="330.71" r="1.95" fill="none" stroke="#0000ff" stroke-width="0.75"/>
<circle cx="472.52" cy="332.28" r="1.95" fill="none" stroke="#0000ff" stroke-width="0.75"/>
<circle cx="471.13" cy="333.85" r="1.95" fill="none" stroke="#0000ff" stroke-width="0.75"/>
<circle cx="469.73" cy="335.42" r="1.95" fill="none" stroke="#0000ff" stroke-width="0.75"/>
<circle cx="468.34" cy="336.99" r="1.95" fill="none" stroke="#0000ff" stroke-width="0.75"/>
<circle cx="466.94" cy="338.56" r="1.95" fill="none" stroke="#0000ff" stroke-width="0.75"/>
<circle cx="465.55" cy="340.13" r="1.95" fill="none" stroke="#0000ff" stroke-width="0.75"/>
<circle cx="464.15" cy="341.7" r="1.95" fill="none" stroke="#0000ff" stroke-width="0.75"/>
<circle cx="462.76" cy="343.27" r="1.95" fill="none" stroke="#0000ff" stroke-width="0.75"/>
<circle cx="461.36" cy="344.84" r="1.95" fill="none" stroke="#0000ff" stroke-width="0.75"/>
<circle cx="530.4" cy="294.2" r="1.95" fill="none" stroke="#0000ff" stroke-width="0.75"/>
<circle cx="532.32" cy="292.6" r="1.95" fill="none" stroke="#0000ff" stroke-width="0.75"/>
<circle cx="534.24" cy="291" r="1.95" fill="none" stroke="#0000ff" stroke-width="0.75"/>
<circle cx="536.16" cy="289.4" r="1.95" fill="none" stroke="#0000ff" stroke-width="0.75"/>
<circle cx="538.08" cy="287.8" r="1.95" fill="none" stroke="#0000ff" stroke-width="0.75"/>
<circle cx="540" cy="286.2" r="1.95" fill="none" stroke="#0000ff" stroke-width="0.75"/>
<circle cx="541.92" cy="284.6" r="1.95" fill="none" stroke="#0000ff" stroke-width="0.75"/>
<circle cx="543.84" cy="283" r="1.95" fill="none" stroke="#0000ff" stroke-width="0.75"/>
<circle cx="545.76" cy="281.4" r="1.95" fill="none" stroke="#0000ff" stroke-width="0.75"/>
<circle cx="547.68" cy="279.8" r="1.95" fill="none" stroke="#0000ff" stroke-width="0.75"/>
<circle cx="549.61" cy="278.2" r="1.95" fill="none" stroke="#0000ff" stroke-width="0.75"/>
<circle cx="551.53" cy="276.59" r="1.95" fill="none" stroke="#0000ff" stroke-width="0.75"/>
<circle cx="553.45" cy="274.99" r="1.95" fill="none" stroke="#0000ff" stroke-width="0.75"/>
<circle cx="555.37" cy="273.39" r="1.95" fill="none" stroke="#0000ff" stroke-width="0.75"/>
<circle cx="562.3" cy="270.1" r="1.95" fill="none" stroke="#0000ff" stroke-width="0.75"/>
<circle cx="567.2" cy="268.7" r="1.95" fill="none" stroke="#0000ff" stroke-width="0.75"/>
<circle cx="572.1" cy="266.6" r="1.95" fill="none" stroke="#0000ff" stroke-width="0.75"/>
<circle cx="578.5" cy="264.5" r="1.95" fill="none" stroke="#0000ff" stroke-width="0.75"/>
<circle cx="582.7" cy="262.4" r="1.95" fill="none" stroke="#0000ff" stroke-width="0.75"/>
<circle cx="584.09" cy="260.83" r="1.95" fill="none" stroke="#0000ff" stroke-width="0.75"/>
<circle cx="585.49" cy="259.26" r="1.95" fill="none" stroke="#0000ff" stroke-width="0.75"/>
<circle cx="586.88" cy="257.69" r="1.95" fill="none" stroke="#0000ff" stroke-width="0.75"/>
<circle cx="588.28" cy="256.12" r="1.95" fill="none" stroke="#0000ff" stroke-width="0.75"/>
<circle cx="589.67" cy="254.55" r="1.95" fill="none" stroke="#0000ff" stroke-width="0.75"/>
<circle cx="591.07" cy="252.98" r="1.95" fill="none" stroke="#0000ff" stroke-width="0.75"/>
<circle cx="592.46" cy="251.41" r="1.95" fill="none" stroke="#0000ff" stroke-width="0.75"/>
<circle cx="593.86" cy="249.84" r="1.95" fill="none" stroke="#0000ff" stroke-width="0.75"/>
<circle cx="595.25" cy="248.27" r="1.95" fill="none" stroke="#0000ff" stroke-width="0.75"/>
<circle cx="596.65" cy="246.7" r="1.95" fill="none" stroke="#0000ff" stroke-width="0.75"/>
<circle cx="598.04" cy="245.13" r="1.95" fill="none" stroke="#0000ff" stroke-width="0.75"/>
<circle cx="599.44" cy="243.56" r="1.95" fill="none" stroke="#0000ff" stroke-width="0.75"/>
<circle cx="530.5" cy="294.3" r="4.3" fill="none" stroke="#000" stroke-width="1.35"/>
<circle cx="555.6" cy="273" r="4.3" fill="none" stroke="#000" stroke-width="1.35"/>
<circle cx="600.3" cy="242.6" r="4.3" fill="none" stroke="#000" stroke-width="1.35"/>
<line x1="478.6" y1="216.8" x2="552.4" y2="270.2" stroke="#000" stroke-width="1.1" />
<line x1="602.6" y1="246.6" x2="620.4" y2="277.6" stroke="#000" stroke-width="1.1" />
<line x1="529.6" y1="298.4" x2="522.1" y2="354.6" stroke="#000" stroke-width="1.1" />
<rect x="410.9" y="152.2" width="64.2" height="63.4" fill="#b8ab52"/>
<ellipse cx="443" cy="183.7" rx="9" ry="13" fill="none" stroke="#6a8088" stroke-width="3.2" opacity="0.65" filter="url(#blur2)"/>
<ellipse cx="443" cy="183.7" rx="6.5" ry="10.5" fill="#8a8a60" filter="url(#blur1)"/>
<ellipse cx="442" cy="176.8" rx="4.3" ry="2.7" fill="#e88a28" filter="url(#blur15)"/>
<ellipse cx="444.4" cy="190.7" rx="4.3" ry="2.7" fill="#e88a28" filter="url(#blur15)"/>
<circle cx="445" cy="181" r="2.4" fill="#2a2a28" filter="url(#blur1)"/>
<circle cx="439.6" cy="185.7" r="2.4" fill="#2a2a28" filter="url(#blur1)"/>
<circle cx="440.5" cy="181.4" r="1.5" fill="#d0c080" filter="url(#blur1)"/>
<circle cx="445.9" cy="186.2" r="1.5" fill="#d0c080" filter="url(#blur1)"/>
<polygon points="477.1,161 539.8,161 538,163.7 478.9,163.7" fill="#9a9a9a"/>
<polygon points="478.6,205.4 538.3,205.4 539.8,207.6 477.1,207.6" fill="#cfcfcf"/>
<rect x="557.2" y="282.4" width="64.2" height="63.4" fill="#b8ab52"/>
<ellipse cx="590" cy="312" rx="13" ry="12" fill="none" stroke="#6f8e86" stroke-width="2.5" opacity="0.45" filter="url(#blur2)" transform="rotate(40 590 312)"/>
<circle cx="586" cy="308.5" r="5" fill="#e89a28" filter="url(#blur15)"/>
<circle cx="595" cy="316.2" r="5.2" fill="#3e4038" filter="url(#blur1)"/>
<circle cx="597.8" cy="318" r="1.9" fill="#e07a20" filter="url(#blur1)"/>
<circle cx="592.8" cy="313.5" r="1.5" fill="#c08040" filter="url(#blur1)"/>
<path d="M579,304 A9,9 0 0 1 592,300" fill="none" stroke="#5f8a8a" stroke-width="1.6" opacity="0.6" filter="url(#blur1)"/>
<polygon points="623.4,291.2 686.1,291.2 684.3,293.9 625.2,293.9" fill="#9a9a9a"/>
<polygon points="624.9,335.6 684.6,335.6 686.1,337.8 623.4,337.8" fill="#cfcfcf"/>
<rect x="460.2" y="358.6" width="64.2" height="63.4" fill="#b8ab52"/>
<ellipse cx="492.5" cy="390.2" rx="12.8" ry="8.2" fill="none" stroke="#5a8090" stroke-width="3.2" opacity="0.65" filter="url(#blur2)"/>
<ellipse cx="492.5" cy="390.2" rx="10" ry="6" fill="#8a8a68" filter="url(#blur1)"/>
<ellipse cx="484.6" cy="390" rx="2.7" ry="4.4" fill="#e88a28" filter="url(#blur15)"/>
<ellipse cx="500.2" cy="390" rx="2.7" ry="4.4" fill="#e88a28" filter="url(#blur15)"/>
<circle cx="487.5" cy="386.5" r="1.6" fill="#3a3020" filter="url(#blur1)"/>
<circle cx="487.5" cy="393.7" r="1.6" fill="#3a3020" filter="url(#blur1)"/>
<circle cx="496.8" cy="386.5" r="1.6" fill="#3a3020" filter="url(#blur1)"/>
<circle cx="496.8" cy="393.7" r="1.6" fill="#3a3020" filter="url(#blur1)"/>
<ellipse cx="492.3" cy="390.2" rx="2.5" ry="1.8" fill="#c8b868" filter="url(#blur1)"/>
<polygon points="526.4,367.4 589.1,367.4 587.3,370.1 528.2,370.1" fill="#9a9a9a"/>
<polygon points="527.9,411.8 587.6,411.8 589.1,414 526.4,414" fill="#cfcfcf"/>
<path d="M504.2,184.5 L509.5,179.5 C511.5,177.5 513,175 515,176 C516,177.5 513,180 510.5,180.5" fill="none" stroke="#b0b0b0" stroke-width="1.1"/>
<path d="M513.6,184.6 L508.5,178.8 C506.5,176.3 503.8,175.8 502.8,174.4 C502.3,173 504.5,172.6 506.2,173.6 C507.8,174.8 508.4,176.6 507.6,178.2" fill="none" stroke="#1a1a1a" stroke-width="1.15"/>
<path d="M646,294.5 C645,301 648,306 654,306.5 M652,294.5 C652,299 655,301 658,300" fill="none" stroke="#d4d4d4" stroke-width="1.8"/>
<ellipse cx="657.6" cy="302.8" rx="5.3" ry="2.8" fill="none" stroke="#222" stroke-width="0.9" transform="rotate(-15 657.6 302.8)"/>
<ellipse cx="553.3" cy="390.8" rx="7" ry="4.1" fill="none" stroke="#bbb" stroke-width="0.9"/>
<ellipse cx="559.6" cy="390.9" rx="6.9" ry="4.3" fill="none" stroke="#111" stroke-width="1.1"/>
<path d="M555.5,387 C554.2,389 554.2,393 555.8,395" fill="none" stroke="#111" stroke-width="1"/>
</svg>
</body></html>
